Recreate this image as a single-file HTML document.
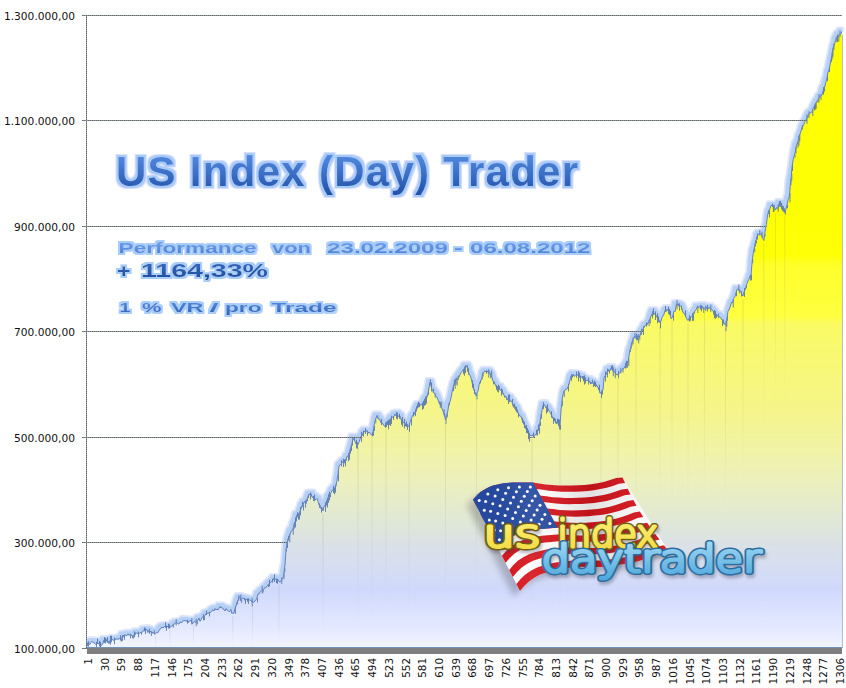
<!DOCTYPE html>
<html><head><meta charset="utf-8">
<style>
html,body{margin:0;padding:0;background:#fff;width:846px;height:688px;overflow:hidden}
svg{display:block}
.grid line{stroke-width:1}
.ax text{font-family:"DejaVu Sans","Liberation Sans",sans-serif;font-size:10.65px;fill:#111;text-anchor:end}
.xl text{font-family:"DejaVu Sans","Liberation Sans",sans-serif;font-size:10.4px;fill:#111;text-anchor:end}
.t{font-family:"Liberation Sans",Arial,sans-serif;font-weight:bold}
.lg{font-family:"DejaVu Sans",sans-serif;font-weight:200}
</style></head><body>
<svg width="846" height="688" viewBox="0 0 846 688">
<defs>
<linearGradient id="fillg" gradientUnits="userSpaceOnUse" x1="0" y1="15" x2="0" y2="648"><stop offset="0.000" stop-color="#ffff00"/><stop offset="0.379" stop-color="#ffff05"/><stop offset="0.395" stop-color="#ffff2a"/><stop offset="0.476" stop-color="#ffff40"/><stop offset="0.488" stop-color="#fafa64"/><stop offset="0.545" stop-color="#f8f874"/><stop offset="0.624" stop-color="#f5f58a"/><stop offset="0.687" stop-color="#f1f3a6"/><stop offset="0.735" stop-color="#ecf0bc"/><stop offset="0.790" stop-color="#e2e9d2"/><stop offset="0.845" stop-color="#d9e0ea"/><stop offset="0.908" stop-color="#d0d9fc"/><stop offset="0.964" stop-color="#e2e8ff"/><stop offset="1.000" stop-color="#f2f4ff"/></linearGradient>
<linearGradient id="titleg" x1="0" y1="0" x2="0" y2="1">
<stop offset="0" stop-color="#5b93e8"/><stop offset="1" stop-color="#2050a8"/>
</linearGradient>
<linearGradient id="perfg" x1="0" y1="0" x2="0" y2="1">
<stop offset="0" stop-color="#78a6ee"/><stop offset="1" stop-color="#4a7cd4"/>
</linearGradient>
<linearGradient id="pctg" x1="0" y1="0" x2="0" y2="1">
<stop offset="0" stop-color="#3a6cc0"/><stop offset="1" stop-color="#1d4b98"/>
</linearGradient>
<linearGradient id="vrg" x1="0" y1="0" x2="0" y2="1">
<stop offset="0" stop-color="#5d90e2"/><stop offset="1" stop-color="#2f62b8"/>
</linearGradient>
<linearGradient id="yel" x1="0" y1="0" x2="0" y2="1">
<stop offset="0" stop-color="#fff27a"/><stop offset="1" stop-color="#f0d840"/>
</linearGradient>
<linearGradient id="blu" x1="0" y1="0" x2="0" y2="1">
<stop offset="0" stop-color="#a8dcf4"/><stop offset="1" stop-color="#4aa6dc"/>
</linearGradient>
<linearGradient id="flagshade" gradientUnits="userSpaceOnUse" x1="473" y1="0" x2="668" y2="0">
<stop offset="0" stop-color="#000" stop-opacity="0"/>
<stop offset="0.3" stop-color="#fff" stop-opacity="0.08"/>
<stop offset="0.6" stop-color="#000" stop-opacity="0.12"/>
<stop offset="1" stop-color="#fff" stop-opacity="0.05"/>
</linearGradient>
<filter id="glow" x="-10%" y="-30%" width="120%" height="160%">
<feMorphology in="SourceAlpha" operator="dilate" radius="3.2" result="d2"/>
<feFlood flood-color="#dadffc"/><feComposite in2="d2" operator="in" result="g2"/>
<feMorphology in="SourceAlpha" operator="dilate" radius="2" result="d"/>
<feFlood flood-color="#a6cbf8"/><feComposite in2="d" operator="in" result="g"/>
<feMerge><feMergeNode in="g2"/><feMergeNode in="g"/><feMergeNode in="SourceGraphic"/></feMerge>
</filter>
<filter id="glows" x="-10%" y="-40%" width="120%" height="180%">
<feMorphology in="SourceAlpha" operator="dilate" radius="2.4" result="d2"/>
<feFlood flood-color="#dfe4fc"/><feComposite in2="d2" operator="in" result="g2"/>
<feMorphology in="SourceAlpha" operator="dilate" radius="1.5" result="d"/>
<feFlood flood-color="#a9cdf9"/><feComposite in2="d" operator="in" result="g"/>
<feMerge><feMergeNode in="g2"/><feMergeNode in="g"/><feMergeNode in="SourceGraphic"/></feMerge>
</filter>
<filter id="blur3" x="-20%" y="-20%" width="140%" height="140%"><feGaussianBlur stdDeviation="3"/></filter>
<filter id="blur2" x="-20%" y="-20%" width="140%" height="140%"><feGaussianBlur stdDeviation="1.6"/></filter>
<mask id="gm" maskUnits="userSpaceOnUse" x="0" y="0" width="846" height="688">
<rect width="846" height="688" fill="#fff"/>
<path d="M87,646.5 L88,644.9 L89,646.4 L90,646.8 L91,644.9 L92,643.8 L93,645 L94,645.2 L95,646.1 L96,647.1 L97,644.9 L98,646.5 L99,645.7 L100,648.6 L101,648.5 L102,647 L103,646.2 L104,642.5 L105,643.8 L106,642.9 L107,642.9 L108,643.5 L109,646.2 L110,642.8 L111,642.1 L112,641.6 L113,642.8 L114,642.5 L115,642.3 L116,641.5 L117,641.4 L118,641.5 L119,641.6 L120,640.5 L121,641.3 L122,640 L123,637.5 L124,639.8 L125,637.2 L126,638.2 L127,638 L128,636.3 L129,637.8 L130,636.8 L131,637.8 L132,637.5 L133,640.9 L134,636.9 L135,637.6 L136,634.9 L137,636.1 L138,635.5 L139,636.2 L140,635 L141,635.2 L142,634.5 L143,634.1 L144,632.4 L145,633.6 L146,632.5 L147,631.9 L148,635.1 L149,632.7 L150,633.5 L150.9,634.7 L151.9,634.4 L152.8,635.8 L153.7,634.6 L154.7,636.8 L155.6,636.1 L156.7,634.8 L157.8,635.2 L158.9,633.3 L160,631.5 L161,631.1 L162,629.4 L163,630.5 L164,629.6 L165,628.5 L166,630.5 L167,628.5 L168,629.7 L169,629.9 L170,629.5 L170.9,629.2 L171.8,628.5 L172.8,627.9 L173.7,626.4 L174.6,626.5 L175.7,625 L176.8,625.3 L177.8,625.9 L178.9,626.6 L180,624.5 L181,625.1 L182,624.7 L183,623.9 L184,622.5 L185,623.5 L186,623.1 L187,623.9 L188,625.3 L189,623.5 L190.1,623.4 L191.2,623.2 L192.4,626.4 L193.5,624.5 L194.6,624.3 L195.8,624.6 L196.9,624 L198,622.5 L199,620.6 L200,623.8 L201,622.4 L202,620 L203,619.1 L204,619.2 L205,617.8 L206,616 L207,616.1 L208,615.5 L209,615.3 L210,615.4 L211,614.3 L212,612.9 L213,612.2 L214,613.5 L215,611 L216,612.5 L217,611.5 L218,612.5 L219,610.7 L220,608.8 L221,610.5 L222,609.8 L223,611.4 L224,612.1 L225,613.5 L226,611.1 L227,612.5 L228,613 L228.9,614.2 L229.9,613.8 L230.9,611.9 L231.8,615.9 L232.8,615.5 L233.9,615.7 L234.9,611.9 L236,608.5 L237.1,604.5 L238.3,602 L239.4,599.5 L240.3,600 L241.2,602.7 L242.1,600.9 L243,600.5 L244,601 L245,602.9 L246,601.5 L247,601.8 L248,604.3 L249,601.9 L250,603 L250.9,602.8 L251.7,604.4 L252.6,603.9 L253.7,604.9 L254.9,603.5 L256,602.2 L257,600.6 L258,596.4 L259,596.5 L259.9,594.7 L260.8,593.7 L261.7,592.8 L262.6,592.3 L263.7,592 L264.8,590 L265.8,590.3 L266.9,588.6 L268,587.5 L269,586.1 L270,585.6 L271,584.5 L272,583.6 L273,582.8 L274,580.5 L275,581 L276,582.2 L277,583.5 L278,582.3 L279,584 L280.1,584.6 L281.2,583.3 L282.4,580.4 L283.5,579.5 L284.2,573 L285,567.5 L286,552.5 L287,545.6 L288,541.5 L289.2,538.7 L290.5,535.5 L291.6,533 L292.8,532.4 L293.9,527.5 L295,524.5 L296,521.3 L297,517.1 L298,517.5 L299,517.1 L300,513.7 L301,511.5 L302,508 L303,508.2 L304,504.5 L305,504.5 L306,506.3 L307,501.7 L308,499.1 L309,496.5 L310,497.3 L311,496.1 L312,499.5 L313,500 L314,499 L315,502 L316,502 L317,501 L318,503.8 L319,507.5 L320,507.5 L321,511.3 L322,510.2 L323,513.5 L324,508.8 L325,508.5 L326,504.5 L327,503.7 L328,499.9 L329,498.5 L330,497.5 L331,495.1 L332,492.9 L333,492.5 L334,490.4 L335,491.2 L336,488.5 L337,482.6 L338,477.4 L339,468.5 L340,467.4 L341,466.4 L342,465.5 L343,463.9 L344,464.4 L345,462.6 L346,463.5 L347,458.8 L348,458.8 L349,456.8 L350,452.5 L351,449.3 L352,445.8 L353,440.2 L354,442.6 L355,443.6 L356,446.5 L357,446.9 L358,447.1 L359,444.5 L360,441.6 L361,438.8 L362,438.5 L363,435.1 L364,435 L365,433.2 L366,433.7 L367,433.3 L368,435.7 L369,434.5 L370,435.7 L371,437.1 L372,437.5 L373,434.3 L374,428.5 L375.2,422.9 L376.5,419.2 L377.4,417.9 L378.2,421.7 L379.1,420.9 L380,422.5 L381,425.3 L382,425.5 L383,426.5 L384,428.3 L385,428.7 L386,428.5 L387,424.7 L388,426.3 L389,423.3 L390,422.5 L391,420.5 L392,419.6 L393,419.7 L394,418.7 L395,416.5 L396,418.3 L397,416 L398,418.5 L399,419.1 L400,418.4 L401,422.1 L402,423.5 L403,425.2 L404,424.7 L405,426.5 L406,427.3 L407,427.8 L408,429.1 L409,428.5 L410,424.8 L411,422.1 L412,419.4 L413,417.5 L414,417.4 L415,414.7 L416,411.4 L417,409.7 L418,407.5 L419,407.6 L420,407.7 L421,407.3 L422,407.1 L423,407.5 L424,403.8 L425,402.1 L426,400.5 L427,399.8 L428,395.5 L429,390.6 L430,384.5 L431,388.6 L432,392.5 L432.9,393.4 L433.8,394.9 L434.7,396 L435.8,398.6 L436.9,399.6 L438,402.5 L438.9,404.7 L439.8,406.8 L440.7,407.7 L441.6,410.5 L442.6,412.6 L443.6,415.4 L444.5,418.3 L445.5,422.5 L446.8,418.5 L448,412.5 L449,405.9 L450,404.2 L451,400.5 L452,394.8 L453,390.5 L453.9,387 L454.7,384.9 L455.6,382 L456.7,382.1 L457.8,379.8 L458.9,378.5 L460,377.5 L461,375.2 L462,374 L463,372.5 L464,372 L465,369.1 L466,368.1 L467,369.6 L468,372.3 L469,376.5 L470,377.9 L471,380.3 L472,384.5 L473,389.7 L474,392.5 L475.2,395.9 L476.5,398.5 L477.4,394.7 L478.2,393.1 L479.1,387.3 L480,384.5 L480.9,383.1 L481.8,380.9 L482.6,376 L483.5,375.5 L484.8,373.3 L486,374.5 L487.1,373.3 L488.2,375.1 L489.3,373.9 L490.2,377.5 L491.1,376.9 L492,380.5 L493,383.8 L494,384.3 L495,386.4 L496,389 L497,389.3 L498,390.4 L499,389.6 L500,392.5 L501,392.6 L502,393.5 L503,396 L504,397.4 L505,400 L506,398.5 L507,402.6 L508,400.4 L509,400 L510,403 L511,403.7 L512,404.2 L513,408.6 L514,407.5 L515,409.8 L516,410 L517,412.5 L518,415.5 L519,417.1 L520,418.5 L521,418.8 L522,422.2 L523,424.6 L524,427 L525,429.2 L526,431.5 L527,433.5 L528,435.4 L529,438 L530,438.4 L531,437.7 L532,438.5 L533,437 L534,439.2 L535,437.4 L536,436.5 L537,435.3 L538,431.4 L539,431.5 L540,424.3 L541,417.5 L542,413.4 L543,407.5 L544,406.6 L545,408.5 L546,410.4 L547,409.9 L548,411.1 L549,413.6 L550,414.7 L551,416.5 L552,418.4 L553,421.2 L554,421.5 L555,422.1 L556,425.2 L557,424.5 L558,425 L559,426.1 L560,428.5 L561,412.5 L561.8,406.3 L562.6,398.5 L563.8,394.3 L565,392.5 L566,391.6 L567,391.5 L568,389.5 L569,386.8 L570,382.5 L571,378.5 L572,379.1 L573,376.5 L574,378.8 L575,378.3 L576,377 L577,377.5 L578,377.5 L579,378.5 L580,379.5 L581,378.7 L582,380.2 L583,380.8 L584,381.5 L585,381.7 L586,383.5 L587,382.5 L588,383.1 L589,382.6 L590,385 L591,386.5 L592,384.4 L593,385.4 L594,386.1 L595,386.5 L596,387.5 L597,388.1 L598,390.5 L599,391.7 L600,395.9 L601,395 L602,393.1 L603,392.5 L604,380.5 L605,378.2 L606,377.5 L607,374.9 L608,372 L609,373.1 L609.9,373.4 L610.9,370.6 L611.9,372 L612.8,373.4 L613.8,373.5 L614.8,375 L615.9,376.9 L617,377 L618,377.5 L619.1,375.9 L620.2,374.8 L621.4,373.1 L622.5,372 L623.4,371.1 L624.2,370.5 L625.1,368.3 L626,367.5 L627.1,365.1 L628.3,364.5 L629.1,357.6 L630,352.5 L630.8,350.2 L631.5,345.5 L632.5,344.6 L633.5,341.9 L634.5,338.5 L635.2,340.4 L636,340.5 L637.1,341 L638.2,339.6 L639.3,339.2 L640.2,338 L641.1,334.2 L642,333.5 L643,331.5 L644,329.9 L645,327.9 L646,327.5 L646.9,327.6 L647.7,325.4 L648.6,325.3 L649.8,321.8 L651,318.5 L652,316.4 L653,313.5 L654,316.7 L655,316 L656,318.5 L657,319.2 L658,322.8 L659,322.4 L660,325.3 L661,323.5 L662,320.1 L663,318.5 L664,316.6 L665,313 L666,314 L667,311.5 L668,312.9 L669,315.5 L670,316.2 L671,321.1 L672,320.5 L673,317.8 L674,313.5 L675.2,313.9 L676.5,306.5 L677.8,307.4 L679,307.5 L680,307.9 L681,309 L682,311.3 L683,315.1 L684,315.5 L685,317.3 L686,319.7 L687,321.7 L688,323 L689,320.7 L690,320.5 L691,320 L692,318.6 L693,318.5 L694,314.6 L695,313.5 L696.2,312.2 L697.4,309 L698.3,310.1 L699.2,309.8 L700.1,309.1 L701,310.5 L702.1,308.6 L703.3,311.7 L704.4,311.5 L705.3,311.4 L706.2,309.6 L707.1,311.4 L708,311.5 L709.1,309.8 L710.3,311.5 L711.4,311.5 L712.3,312.7 L713.1,313.9 L714,314.5 L715,316.7 L716,318.5 L716.9,318.9 L717.9,317.7 L718.8,318.8 L719.7,319.5 L720.9,320.4 L722,322.5 L722.9,323.5 L723.8,325.3 L724.6,326.9 L725.5,327.5 L726.2,325.8 L727,320.5 L728,313.7 L729,312.5 L730,309.9 L731,306.5 L731.9,304.5 L732.7,305.4 L733.6,301.1 L734.8,299.3 L736,295.5 L737.1,291.7 L738.3,291.5 L739.2,292.9 L740.1,292.9 L741,294.5 L742,297.6 L743,298.5 L744,294.3 L745,292.5 L745.9,289.7 L746.7,287 L747.6,284.5 L748.7,282.1 L749.9,279.2 L751,277.5 L752.2,264 L753.4,254.5 L754.2,251 L755,246.5 L756,243.6 L757,238.5 L758.1,237.8 L759.2,236.1 L760.4,236.8 L761.5,236 L762.6,240.1 L763.8,243 L764.7,236.9 L765.5,231.2 L766.4,226.9 L767.3,219.5 L768.1,215.3 L769,213.5 L770,211.1 L771,207.8 L772,208.1 L772.9,208.4 L773.8,209.5 L774.6,210.3 L775.5,212.5 L776.6,210 L777.8,211 L778.9,207 L780,205.5 L781,207.3 L781.9,211.8 L782.9,211.2 L783.8,211.3 L784.8,215.1 L785.9,211.7 L787,207.5 L788.2,202 L789.5,198.5 L790.5,184.5 L791.2,178.8 L792,169.5 L793.2,162.1 L794.5,157.5 L795.5,152.9 L796.5,147.7 L797.5,145.5 L798.4,142.6 L799.2,138.4 L800.1,136.4 L801,133.5 L801.9,130.8 L802.8,128.3 L803.6,127.8 L804.5,124.5 L805.5,123.9 L806.5,121.2 L807.5,119.5 L808.5,117.2 L809.5,115.7 L810.5,115.5 L811.4,114.3 L812.2,115.1 L813.1,110.5 L814,109.5 L814.9,107.1 L815.8,105.7 L816.6,103.8 L817.5,103.5 L818.5,100.8 L819.5,99.9 L820.5,98.5 L821.8,97.6 L823,93.5 L824,91 L825,88.5 L826,83.9 L827,80.5 L828,74.7 L829,72.5 L830,67.7 L831,62.5 L831.8,58 L832.5,53.5 L833.5,48.7 L834.5,46.5 L835.8,42.3 L837,40.5 L838.2,38.5 L839.5,36.5 L840.8,36.4 L842,34 L843,648 L87,648 Z" fill="#000"/>
</mask>
<linearGradient id="strk" x1="0" y1="0" x2="0" y2="1">
<stop offset="0" stop-color="#7f8a68" stop-opacity="0.22"/><stop offset="1" stop-color="#7f8a68" stop-opacity="0"/>
</linearGradient>
<clipPath id="pc"><rect x="87" y="0" width="759" height="647"/></clipPath>
</defs>

<path d="M87,644 L88,642.4 L89,643.9 L90,644.3 L91,642.4 L92,641.3 L93,642.5 L94,642.7 L95,643.6 L96,644.6 L97,642.4 L98,644 L99,643.2 L100,646.1 L101,646 L102,644.5 L103,643.7 L104,640 L105,641.3 L106,640.4 L107,640.4 L108,641 L109,643.7 L110,640.3 L111,639.6 L112,639.1 L113,640.3 L114,640 L115,639.8 L116,639 L117,638.9 L118,639 L119,639.1 L120,638 L121,638.8 L122,637.5 L123,635 L124,637.3 L125,634.7 L126,635.7 L127,635.5 L128,633.8 L129,635.3 L130,634.3 L131,635.3 L132,635 L133,638.4 L134,634.4 L135,635.1 L136,632.4 L137,633.6 L138,633 L139,633.7 L140,632.5 L141,632.7 L142,632 L143,631.6 L144,629.9 L145,631.1 L146,630 L147,629.4 L148,632.6 L149,630.2 L150,631 L150.9,632.2 L151.9,631.9 L152.8,633.3 L153.7,632.1 L154.7,634.3 L155.6,633.6 L156.7,632.3 L157.8,632.7 L158.9,630.8 L160,629 L161,628.6 L162,626.9 L163,628 L164,627.1 L165,626 L166,628 L167,626 L168,627.2 L169,627.4 L170,627 L170.9,626.7 L171.8,626 L172.8,625.4 L173.7,623.9 L174.6,624 L175.7,622.5 L176.8,622.8 L177.8,623.4 L178.9,624.1 L180,622 L181,622.6 L182,622.2 L183,621.4 L184,620 L185,621 L186,620.6 L187,621.4 L188,622.8 L189,621 L190.1,620.9 L191.2,620.7 L192.4,623.9 L193.5,622 L194.6,621.8 L195.8,622.1 L196.9,621.5 L198,620 L199,618.1 L200,621.3 L201,619.9 L202,617.5 L203,616.6 L204,616.7 L205,615.3 L206,613.5 L207,613.6 L208,613 L209,612.8 L210,612.9 L211,611.8 L212,610.4 L213,609.7 L214,611 L215,608.5 L216,610 L217,609 L218,610 L219,608.2 L220,606.3 L221,608 L222,607.3 L223,608.9 L224,609.6 L225,611 L226,608.6 L227,610 L228,610.5 L228.9,611.7 L229.9,611.3 L230.9,609.4 L231.8,613.4 L232.8,613 L233.9,613.2 L234.9,609.4 L236,606 L237.1,602 L238.3,599.5 L239.4,597 L240.3,597.5 L241.2,600.2 L242.1,598.4 L243,598 L244,598.5 L245,600.4 L246,599 L247,599.3 L248,601.8 L249,599.4 L250,600.5 L250.9,600.3 L251.7,601.9 L252.6,601.4 L253.7,602.4 L254.9,601 L256,599.7 L257,598.1 L258,593.9 L259,594 L259.9,592.2 L260.8,591.2 L261.7,590.3 L262.6,589.8 L263.7,589.5 L264.8,587.5 L265.8,587.8 L266.9,586.1 L268,585 L269,583.6 L270,583.1 L271,582 L272,581.1 L273,580.3 L274,578 L275,578.5 L276,579.7 L277,581 L278,579.8 L279,581.5 L280.1,582.1 L281.2,580.8 L282.4,577.9 L283.5,577 L284.2,570.5 L285,565 L286,550 L287,543.1 L288,539 L289.2,536.2 L290.5,533 L291.6,530.5 L292.8,529.9 L293.9,525 L295,522 L296,518.8 L297,514.6 L298,515 L299,514.6 L300,511.2 L301,509 L302,505.5 L303,505.7 L304,502 L305,502 L306,503.8 L307,499.2 L308,496.6 L309,494 L310,494.8 L311,493.6 L312,497 L313,497.5 L314,496.5 L315,499.5 L316,499.5 L317,498.5 L318,501.3 L319,505 L320,505 L321,508.8 L322,507.7 L323,511 L324,506.3 L325,506 L326,502 L327,501.2 L328,497.4 L329,496 L330,495 L331,492.6 L332,490.4 L333,490 L334,487.9 L335,488.7 L336,486 L337,480.1 L338,474.9 L339,466 L340,464.9 L341,463.9 L342,463 L343,461.4 L344,461.9 L345,460.1 L346,461 L347,456.3 L348,456.3 L349,454.3 L350,450 L351,446.8 L352,443.3 L353,437.7 L354,440.1 L355,441.1 L356,444 L357,444.4 L358,444.6 L359,442 L360,439.1 L361,436.3 L362,436 L363,432.6 L364,432.5 L365,430.7 L366,431.2 L367,430.8 L368,433.2 L369,432 L370,433.2 L371,434.6 L372,435 L373,431.8 L374,426 L375.2,420.4 L376.5,416.7 L377.4,415.4 L378.2,419.2 L379.1,418.4 L380,420 L381,422.8 L382,423 L383,424 L384,425.8 L385,426.2 L386,426 L387,422.2 L388,423.8 L389,420.8 L390,420 L391,418 L392,417.1 L393,417.2 L394,416.2 L395,414 L396,415.8 L397,413.5 L398,416 L399,416.6 L400,415.9 L401,419.6 L402,421 L403,422.7 L404,422.2 L405,424 L406,424.8 L407,425.3 L408,426.6 L409,426 L410,422.3 L411,419.6 L412,416.9 L413,415 L414,414.9 L415,412.2 L416,408.9 L417,407.2 L418,405 L419,405.1 L420,405.2 L421,404.8 L422,404.6 L423,405 L424,401.3 L425,399.6 L426,398 L427,397.3 L428,393 L429,388.1 L430,382 L431,386.1 L432,390 L432.9,390.9 L433.8,392.4 L434.7,393.5 L435.8,396.1 L436.9,397.1 L438,400 L438.9,402.2 L439.8,404.3 L440.7,405.2 L441.6,408 L442.6,410.1 L443.6,412.9 L444.5,415.8 L445.5,420 L446.8,416 L448,410 L449,403.4 L450,401.7 L451,398 L452,392.3 L453,388 L453.9,384.5 L454.7,382.4 L455.6,379.5 L456.7,379.6 L457.8,377.3 L458.9,376 L460,375 L461,372.7 L462,371.5 L463,370 L464,369.5 L465,366.6 L466,365.6 L467,367.1 L468,369.8 L469,374 L470,375.4 L471,377.8 L472,382 L473,387.2 L474,390 L475.2,393.4 L476.5,396 L477.4,392.2 L478.2,390.6 L479.1,384.8 L480,382 L480.9,380.6 L481.8,378.4 L482.6,373.5 L483.5,373 L484.8,370.8 L486,372 L487.1,370.8 L488.2,372.6 L489.3,371.4 L490.2,375 L491.1,374.4 L492,378 L493,381.3 L494,381.8 L495,383.9 L496,386.5 L497,386.8 L498,387.9 L499,387.1 L500,390 L501,390.1 L502,391 L503,393.5 L504,394.9 L505,397.5 L506,396 L507,400.1 L508,397.9 L509,397.5 L510,400.5 L511,401.2 L512,401.7 L513,406.1 L514,405 L515,407.3 L516,407.5 L517,410 L518,413 L519,414.6 L520,416 L521,416.3 L522,419.7 L523,422.1 L524,424.5 L525,426.7 L526,429 L527,431 L528,432.9 L529,435.5 L530,435.9 L531,435.2 L532,436 L533,434.5 L534,436.7 L535,434.9 L536,434 L537,432.8 L538,428.9 L539,429 L540,421.8 L541,415 L542,410.9 L543,405 L544,404.1 L545,406 L546,407.9 L547,407.4 L548,408.6 L549,411.1 L550,412.2 L551,414 L552,415.9 L553,418.7 L554,419 L555,419.6 L556,422.7 L557,422 L558,422.5 L559,423.6 L560,426 L561,410 L561.8,403.8 L562.6,396 L563.8,391.8 L565,390 L566,389.1 L567,389 L568,387 L569,384.3 L570,380 L571,376 L572,376.6 L573,374 L574,376.3 L575,375.8 L576,374.5 L577,375 L578,375 L579,376 L580,377 L581,376.2 L582,377.7 L583,378.3 L584,379 L585,379.2 L586,381 L587,380 L588,380.6 L589,380.1 L590,382.5 L591,384 L592,381.9 L593,382.9 L594,383.6 L595,384 L596,385 L597,385.6 L598,388 L599,389.2 L600,393.4 L601,392.5 L602,390.6 L603,390 L604,378 L605,375.7 L606,375 L607,372.4 L608,369.5 L609,370.6 L609.9,370.9 L610.9,368.1 L611.9,369.5 L612.8,370.9 L613.8,371 L614.8,372.5 L615.9,374.4 L617,374.5 L618,375 L619.1,373.4 L620.2,372.3 L621.4,370.6 L622.5,369.5 L623.4,368.6 L624.2,368 L625.1,365.8 L626,365 L627.1,362.6 L628.3,362 L629.1,355.1 L630,350 L630.8,347.7 L631.5,343 L632.5,342.1 L633.5,339.4 L634.5,336 L635.2,337.9 L636,338 L637.1,338.5 L638.2,337.1 L639.3,336.7 L640.2,335.5 L641.1,331.7 L642,331 L643,329 L644,327.4 L645,325.4 L646,325 L646.9,325.1 L647.7,322.9 L648.6,322.8 L649.8,319.3 L651,316 L652,313.9 L653,311 L654,314.2 L655,313.5 L656,316 L657,316.7 L658,320.3 L659,319.9 L660,322.8 L661,321 L662,317.6 L663,316 L664,314.1 L665,310.5 L666,311.5 L667,309 L668,310.4 L669,313 L670,313.7 L671,318.6 L672,318 L673,315.3 L674,311 L675.2,311.4 L676.5,304 L677.8,304.9 L679,305 L680,305.4 L681,306.5 L682,308.8 L683,312.6 L684,313 L685,314.8 L686,317.2 L687,319.2 L688,320.5 L689,318.2 L690,318 L691,317.5 L692,316.1 L693,316 L694,312.1 L695,311 L696.2,309.7 L697.4,306.5 L698.3,307.6 L699.2,307.3 L700.1,306.6 L701,308 L702.1,306.1 L703.3,309.2 L704.4,309 L705.3,308.9 L706.2,307.1 L707.1,308.9 L708,309 L709.1,307.3 L710.3,309 L711.4,309 L712.3,310.2 L713.1,311.4 L714,312 L715,314.2 L716,316 L716.9,316.4 L717.9,315.2 L718.8,316.3 L719.7,317 L720.9,317.9 L722,320 L722.9,321 L723.8,322.8 L724.6,324.4 L725.5,325 L726.2,323.3 L727,318 L728,311.2 L729,310 L730,307.4 L731,304 L731.9,302 L732.7,302.9 L733.6,298.6 L734.8,296.8 L736,293 L737.1,289.2 L738.3,289 L739.2,290.4 L740.1,290.4 L741,292 L742,295.1 L743,296 L744,291.8 L745,290 L745.9,287.2 L746.7,284.5 L747.6,282 L748.7,279.6 L749.9,276.7 L751,275 L752.2,261.5 L753.4,252 L754.2,248.5 L755,244 L756,241.1 L757,236 L758.1,235.3 L759.2,233.6 L760.4,234.3 L761.5,233.5 L762.6,237.6 L763.8,240.5 L764.7,234.4 L765.5,228.7 L766.4,224.4 L767.3,217 L768.1,212.8 L769,211 L770,208.6 L771,205.3 L772,205.6 L772.9,205.9 L773.8,207 L774.6,207.8 L775.5,210 L776.6,207.5 L777.8,208.5 L778.9,204.5 L780,203 L781,204.8 L781.9,209.3 L782.9,208.7 L783.8,208.8 L784.8,212.6 L785.9,209.2 L787,205 L788.2,199.5 L789.5,196 L790.5,182 L791.2,176.3 L792,167 L793.2,159.6 L794.5,155 L795.5,150.4 L796.5,145.2 L797.5,143 L798.4,140.1 L799.2,135.9 L800.1,133.9 L801,131 L801.9,128.3 L802.8,125.8 L803.6,125.3 L804.5,122 L805.5,121.4 L806.5,118.7 L807.5,117 L808.5,114.7 L809.5,113.2 L810.5,113 L811.4,111.8 L812.2,112.6 L813.1,108 L814,107 L814.9,104.6 L815.8,103.2 L816.6,101.3 L817.5,101 L818.5,98.3 L819.5,97.4 L820.5,96 L821.8,95.1 L823,91 L824,88.5 L825,86 L826,81.4 L827,78 L828,72.2 L829,70 L830,65.2 L831,60 L831.8,55.5 L832.5,51 L833.5,46.2 L834.5,44 L835.8,39.8 L837,38 L838.2,36 L839.5,34 L840.8,33.9 L842,31.5 L842,648 L87,648 Z" fill="url(#fillg)"/>
<g fill="url(#strk)"><rect x="155.1" y="636.6" width="1" height="11.4"/><rect x="169.5" y="630.0" width="1" height="18.0"/><rect x="193.0" y="625.0" width="1" height="23.0"/><rect x="232.3" y="616.0" width="1" height="32.0"/><rect x="252.1" y="604.4" width="1" height="43.6"/><rect x="278.5" y="584.5" width="1" height="63.5"/><rect x="322.5" y="514.0" width="1" height="134.0"/><rect x="357.5" y="447.6" width="1" height="190.0"/><rect x="371.5" y="438.0" width="1" height="190.0"/><rect x="385.5" y="429.0" width="1" height="190.0"/><rect x="408.5" y="429.0" width="1" height="190.0"/><rect x="445.0" y="423.0" width="1" height="190.0"/><rect x="476.0" y="399.0" width="1" height="190.0"/><rect x="531.5" y="439.0" width="1" height="190.0"/><rect x="559.5" y="429.0" width="1" height="190.0"/><rect x="600.5" y="395.5" width="1" height="190.0"/><rect x="617.5" y="378.0" width="1" height="190.0"/><rect x="635.5" y="341.0" width="1" height="190.0"/><rect x="659.5" y="325.8" width="1" height="190.0"/><rect x="671.5" y="321.0" width="1" height="190.0"/><rect x="687.5" y="323.5" width="1" height="190.0"/><rect x="703.9" y="312.0" width="1" height="190.0"/><rect x="725.0" y="328.0" width="1" height="190.0"/><rect x="742.5" y="299.0" width="1" height="190.0"/><rect x="763.3" y="243.5" width="1" height="190.0"/><rect x="775.0" y="213.0" width="1" height="190.0"/><rect x="784.3" y="215.6" width="1" height="190.0"/></g>
<g clip-path="url(#pc)">
<path d="M87,639.8 L88,639.8 L89,638.7 L90,638.7 L91,638.7 L92,638.7 L93,638.7 L94,638.7 L95,638.7 L96,639.8 L97,639.8 L98,639.8 L99,639.8 L100,639.8 L101,637.4 L102,637.4 L103,637.4 L104,637.4 L105,637.4 L106,637.4 L107,637.4 L108,637 L109,636.5 L110,636.5 L111,636.5 L112,636.5 L113,636.4 L114,636.3 L115,636.3 L116,636.3 L117,635.4 L118,635.4 L119,634.9 L120,632.4 L121,632.4 L122,632.1 L123,632.1 L124,632.1 L125,631.2 L126,631.2 L127,631.2 L128,631.2 L129,631.2 L130,631.2 L131,631.2 L132,631.7 L133,629.8 L134,629.8 L135,629.8 L136,629.8 L137,629.8 L138,629.8 L139,629.4 L140,629 L141,627.3 L142,627.3 L143,627.3 L144,626.8 L145,626.8 L146,626.8 L147,626.8 L148,626.8 L149,626.8 L150,626.8 L150.9,627.6 L151.9,627.6 L152.8,628.4 L153.7,629.3 L154.7,629.3 L155.6,628.2 L156.7,626.4 L157.8,626 L158.9,624.3 L160,624.3 L161,624.3 L162,623.4 L163,623.4 L164,623.4 L165,623.4 L166,623.4 L167,623.4 L168,623.4 L169,623.4 L170,622.8 L170.9,621.3 L171.8,621.3 L172.8,619.9 L173.7,619.9 L174.6,619.9 L175.7,619.9 L176.8,619.4 L177.8,619.4 L178.9,619.4 L180,618.8 L181,617.4 L182,617.4 L183,617.4 L184,617.4 L185,617.4 L186,617.4 L187,617.4 L188,618 L189,618 L190.1,618.1 L191.2,618.1 L192.4,618.1 L193.5,618.1 L194.6,617.4 L195.8,615.5 L196.9,615.5 L198,615.5 L199,614.9 L200,614 L201,614 L202,612.7 L203,610.9 L204,610.9 L205,610.4 L206,610.2 L207,610.2 L208,609.2 L209,607.8 L210,607.1 L211,607.1 L212,605.9 L213,605.9 L214,605.9 L215,605.9 L216,605.6 L217,603.7 L218,603.7 L219,603.7 L220,603.7 L221,603.7 L222,603.7 L223,603.7 L224,604.7 L225,604.7 L226,606 L227,606 L228,606 L228.9,606 L229.9,606.8 L230.9,606.8 L231.8,606.8 L232.8,603.4 L233.9,599.4 L234.9,596.9 L236,594.4 L237.1,594.4 L238.3,594.4 L239.4,594.4 L240.3,594.4 L241.2,594.4 L242.1,594.4 L243,594.9 L244,595.4 L245,595.4 L246,595.4 L247,595.9 L248,596.4 L249,596.4 L250,596.7 L250.9,596.8 L251.7,596.8 L252.6,597.1 L253.7,595.5 L254.9,591.3 L256,591.3 L257,589.6 L258,588.6 L259,587.7 L259.9,587.2 L260.8,586.9 L261.7,584.9 L262.6,584.9 L263.7,583.5 L264.8,582.4 L265.8,581 L266.9,580.5 L268,579.4 L269,578.5 L270,577.7 L271,575.4 L272,575.4 L273,575.4 L274,575.4 L275,575.4 L276,575.4 L277,575.4 L278,575.9 L279,575.3 L280.1,574.4 L281.2,567.9 L282.4,562.4 L283.5,547.4 L284.2,540.5 L285,536.4 L286,533.6 L287,530.4 L288,527.9 L289.2,527.3 L290.5,522.4 L291.6,519.4 L292.8,516.2 L293.9,512 L295,512 L296,512 L297,508.6 L298,506.4 L299,502.9 L300,502.9 L301,499.4 L302,499.4 L303,499.4 L304,496.6 L305,494 L306,491.4 L307,491.4 L308,491 L309,491 L310,491 L311,491 L312,491 L313,491 L314,491 L315,493.9 L316,493.9 L317,493.9 L318,495.9 L319,495.9 L320,495.9 L321,498.7 L322,502.4 L323,499.4 L324,498.6 L325,494.8 L326,493.4 L327,492.4 L328,490 L329,487.8 L330,487.4 L331,485.3 L332,485.3 L333,483.4 L334,477.5 L335,472.3 L336,463.4 L337,462.3 L338,461.3 L339,460.4 L340,458.8 L341,458.8 L342,457.5 L343,457.5 L344,453.7 L345,453.7 L346,451.7 L347,447.4 L348,444.2 L349,440.7 L350,435.1 L351,435.1 L352,435.1 L353,435.1 L354,435.1 L355,435.1 L356,435.1 L357,436.5 L358,433.7 L359,433.4 L360,430 L361,429.9 L362,428.1 L363,428.1 L364,428.1 L365,428.1 L366,428.1 L367,428.1 L368,428.1 L369,428.2 L370,428.2 L371,423.4 L372,417.8 L373,414.1 L374,412.8 L375.2,412.8 L376.5,412.8 L377.4,412.8 L378.2,412.8 L379.1,412.8 L380,412.8 L381,415.8 L382,415.8 L383,417.4 L384,419.6 L385,419.6 L386,418.2 L387,417.4 L388,415.4 L389,414.5 L390,414.5 L391,413.6 L392,411.4 L393,411.4 L394,410.9 L395,410.9 L396,410.9 L397,410.9 L398,410.9 L399,410.9 L400,410.9 L401,413.3 L402,413.3 L403,413.3 L404,417 L405,418.4 L406,419.6 L407,419.6 L408,417 L409,414.3 L410,412.4 L411,412.3 L412,409.6 L413,406.3 L414,404.6 L415,402.4 L416,402.4 L417,402.4 L418,402.2 L419,402 L420,402 L421,398.7 L422,397 L423,395.4 L424,394.7 L425,390.4 L426,385.5 L427,379.4 L428,379.4 L429,379.4 L430,379.4 L431,379.4 L432,379.4 L432.9,379.4 L433.8,383.5 L434.7,387.4 L435.8,388.3 L436.9,389.8 L438,390.9 L438.9,393.5 L439.8,394.5 L440.7,397.4 L441.6,399.6 L442.6,401.7 L443.6,402.6 L444.5,405.4 L445.5,400.8 L446.8,399.1 L448,395.4 L449,389.7 L450,385.4 L451,381.9 L452,379.8 L453,376.9 L453.9,376.9 L454.7,374.7 L455.6,373.4 L456.7,372.4 L457.8,370.1 L458.9,368.9 L460,367.4 L461,366.9 L462,364 L463,363 L464,363 L465,363 L466,363 L467,363 L468,363 L469,363 L470,364.5 L471,367.2 L472,371.4 L473,372.8 L474,375.2 L475.2,379.4 L476.5,382.2 L477.4,379.4 L478.2,378 L479.1,375.8 L480,370.9 L480.9,370.4 L481.8,368.2 L482.6,368.2 L483.5,368.2 L484.8,368.2 L486,368.2 L487.1,368.2 L488.2,368.2 L489.3,368.2 L490.2,368.2 L491.1,368.8 L492,368.8 L493,371.8 L494,371.8 L495,375.4 L496,378.7 L497,379.2 L498,381.3 L499,383.9 L500,384.2 L501,384.5 L502,384.5 L503,387.4 L504,387.5 L505,388.4 L506,390.9 L507,392.3 L508,393.4 L509,393.4 L510,394.9 L511,394.9 L512,394.9 L513,397.9 L514,398.6 L515,399.1 L516,402.4 L517,402.4 L518,404.7 L519,404.9 L520,407.4 L521,410.4 L522,412 L523,413.4 L524,413.7 L525,417.1 L526,419.5 L527,421.9 L528,424.1 L529,426.4 L530,428.4 L531,430.3 L532,431.9 L533,431.4 L534,430.2 L535,426.3 L536,426.3 L537,419.2 L538,412.4 L539,408.3 L540,402.4 L541,401.5 L542,401.5 L543,401.5 L544,401.5 L545,401.5 L546,401.5 L547,401.5 L548,403.4 L549,404.8 L550,404.8 L551,406 L552,408.5 L553,409.6 L554,411.4 L555,413.3 L556,416.1 L557,416.4 L558,407.4 L559,401.2 L560,393.4 L561,389.2 L561.8,387.4 L562.6,386.5 L563.8,386.4 L565,384.4 L566,381.7 L567,377.4 L568,373.4 L569,373.4 L570,371.4 L571,371.4 L572,371.4 L573,371.4 L574,371.4 L575,371.4 L576,371.4 L577,371.9 L578,371.9 L579,371.9 L580,372.4 L581,372.4 L582,373.4 L583,373.6 L584,373.6 L585,375.1 L586,375.7 L587,376.4 L588,376.6 L589,377.4 L590,377.4 L591,377.5 L592,377.5 L593,379.3 L594,379.3 L595,379.3 L596,380.3 L597,381 L598,381.4 L599,382.4 L600,383 L601,375.4 L602,373.1 L603,372.4 L604,369.8 L605,366.9 L606,366.9 L607,366.9 L608,365.5 L609,365.5 L609.9,365.5 L610.9,365.5 L611.9,365.5 L612.8,365.5 L613.8,365.5 L614.8,366.9 L615.9,368.3 L617,368.4 L618,368 L619.1,366.9 L620.2,366 L621.4,365.4 L622.5,363.2 L623.4,362.4 L624.2,360 L625.1,359.4 L626,352.5 L627.1,347.4 L628.3,345.1 L629.1,340.4 L630,339.5 L630.8,336.8 L631.5,333.4 L632.5,333.4 L633.5,333.4 L634.5,333.4 L635.2,333.4 L636,333.4 L637.1,332.9 L638.2,329.1 L639.3,328.4 L640.2,326.4 L641.1,324.8 L642,322.8 L643,322.4 L644,322.4 L645,320.3 L646,320.2 L646.9,316.7 L647.7,313.4 L648.6,311.3 L649.8,308.4 L651,308.4 L652,308.4 L653,308.4 L654,308.4 L655,308.4 L656,308.4 L657,310.9 L658,310.9 L659,313.4 L660,313.4 L661,311.5 L662,307.9 L663,307.9 L664,306.4 L665,306.4 L666,306.4 L667,306.4 L668,306.4 L669,306.4 L670,306.4 L671,307.8 L672,308.4 L673,301.4 L674,301.4 L675.2,301.4 L676.5,301.4 L677.8,301.4 L679,301.4 L680,301.4 L681,302.3 L682,302.4 L683,302.8 L684,303.9 L685,306.2 L686,310 L687,310.4 L688,312.2 L689,313.5 L690,313.4 L691,309.5 L692,308.4 L693,307.1 L694,303.9 L695,303.9 L696.2,303.9 L697.4,303.9 L698.3,303.9 L699.2,303.5 L700.1,303.5 L701,303.5 L702.1,303.5 L703.3,303.5 L704.4,303.5 L705.3,303.5 L706.2,304.5 L707.1,304.5 L708,304.5 L709.1,304.5 L710.3,304.7 L711.4,304.7 L712.3,304.7 L713.1,306.4 L714,306.4 L715,307.6 L716,308.8 L716.9,309.4 L717.9,311.6 L718.8,312.6 L719.7,312.6 L720.9,312.6 L722,313.7 L722.9,314.4 L723.8,315.3 L724.6,315.4 L725.5,308.6 L726.2,307.4 L727,304.8 L728,301.4 L729,299.4 L730,299.4 L731,296 L731.9,294.2 L732.7,290.4 L733.6,286.6 L734.8,286.4 L736,286.4 L737.1,286.4 L738.3,286.4 L739.2,286.4 L740.1,286.4 L741,286.4 L742,287.4 L743,284.6 L744,281.9 L745,279.4 L745.9,277 L746.7,274.1 L747.6,272.4 L748.7,258.9 L749.9,249.4 L751,245.9 L752.2,241.4 L753.4,238.5 L754.2,233.4 L755,232.7 L756,231 L757,231 L758.1,230.9 L759.2,230.9 L760.4,230.9 L761.5,230.9 L762.6,226.1 L763.8,221.8 L764.7,214.4 L765.5,210.2 L766.4,208.4 L767.3,206 L768.1,202.7 L769,202.7 L770,202.7 L771,202.7 L772,202.7 L772.9,202.7 L773.8,202.7 L774.6,203 L775.5,201.9 L776.6,200.4 L777.8,200.4 L778.9,200.4 L780,200.4 L781,200.4 L781.9,200.4 L782.9,200.4 L783.8,202.2 L784.8,196.9 L785.9,193.4 L787,179.4 L788.2,173.7 L789.5,164.4 L790.5,157 L791.2,152.4 L792,147.8 L793.2,142.6 L794.5,140.4 L795.5,137.5 L796.5,133.3 L797.5,131.3 L798.4,128.4 L799.2,125.7 L800.1,123.2 L801,122.7 L801.9,119.4 L802.8,118.8 L803.6,116.1 L804.5,114.4 L805.5,112.1 L806.5,110.6 L807.5,110.4 L808.5,109.2 L809.5,109.2 L810.5,105.4 L811.4,104.4 L812.2,102 L813.1,100.6 L814,98.7 L814.9,98.4 L815.8,95.7 L816.6,94.8 L817.5,93.4 L818.5,92.5 L819.5,88.4 L820.5,85.9 L821.8,83.4 L823,78.8 L824,75.4 L825,69.6 L826,67.4 L827,62.6 L828,57.4 L829,52.9 L830,48.4 L831,43.6 L831.8,41.4 L832.5,37.2 L833.5,35.4 L834.5,33.4 L835.8,31.4 L837,31.3 L838.2,28.9 L839.5,28.9 L840.8,28.9 L842,28.9" fill="none" stroke="#e0e6fc" stroke-width="5" stroke-linejoin="round" stroke-linecap="round"/>
<path d="M87,639.8 L88,639.8 L89,638.7 L90,638.7 L91,638.7 L92,638.7 L93,638.7 L94,638.7 L95,638.7 L96,639.8 L97,639.8 L98,639.8 L99,639.8 L100,639.8 L101,637.4 L102,637.4 L103,637.4 L104,637.4 L105,637.4 L106,637.4 L107,637.4 L108,637 L109,636.5 L110,636.5 L111,636.5 L112,636.5 L113,636.4 L114,636.3 L115,636.3 L116,636.3 L117,635.4 L118,635.4 L119,634.9 L120,632.4 L121,632.4 L122,632.1 L123,632.1 L124,632.1 L125,631.2 L126,631.2 L127,631.2 L128,631.2 L129,631.2 L130,631.2 L131,631.2 L132,631.7 L133,629.8 L134,629.8 L135,629.8 L136,629.8 L137,629.8 L138,629.8 L139,629.4 L140,629 L141,627.3 L142,627.3 L143,627.3 L144,626.8 L145,626.8 L146,626.8 L147,626.8 L148,626.8 L149,626.8 L150,626.8 L150.9,627.6 L151.9,627.6 L152.8,628.4 L153.7,629.3 L154.7,629.3 L155.6,628.2 L156.7,626.4 L157.8,626 L158.9,624.3 L160,624.3 L161,624.3 L162,623.4 L163,623.4 L164,623.4 L165,623.4 L166,623.4 L167,623.4 L168,623.4 L169,623.4 L170,622.8 L170.9,621.3 L171.8,621.3 L172.8,619.9 L173.7,619.9 L174.6,619.9 L175.7,619.9 L176.8,619.4 L177.8,619.4 L178.9,619.4 L180,618.8 L181,617.4 L182,617.4 L183,617.4 L184,617.4 L185,617.4 L186,617.4 L187,617.4 L188,618 L189,618 L190.1,618.1 L191.2,618.1 L192.4,618.1 L193.5,618.1 L194.6,617.4 L195.8,615.5 L196.9,615.5 L198,615.5 L199,614.9 L200,614 L201,614 L202,612.7 L203,610.9 L204,610.9 L205,610.4 L206,610.2 L207,610.2 L208,609.2 L209,607.8 L210,607.1 L211,607.1 L212,605.9 L213,605.9 L214,605.9 L215,605.9 L216,605.6 L217,603.7 L218,603.7 L219,603.7 L220,603.7 L221,603.7 L222,603.7 L223,603.7 L224,604.7 L225,604.7 L226,606 L227,606 L228,606 L228.9,606 L229.9,606.8 L230.9,606.8 L231.8,606.8 L232.8,603.4 L233.9,599.4 L234.9,596.9 L236,594.4 L237.1,594.4 L238.3,594.4 L239.4,594.4 L240.3,594.4 L241.2,594.4 L242.1,594.4 L243,594.9 L244,595.4 L245,595.4 L246,595.4 L247,595.9 L248,596.4 L249,596.4 L250,596.7 L250.9,596.8 L251.7,596.8 L252.6,597.1 L253.7,595.5 L254.9,591.3 L256,591.3 L257,589.6 L258,588.6 L259,587.7 L259.9,587.2 L260.8,586.9 L261.7,584.9 L262.6,584.9 L263.7,583.5 L264.8,582.4 L265.8,581 L266.9,580.5 L268,579.4 L269,578.5 L270,577.7 L271,575.4 L272,575.4 L273,575.4 L274,575.4 L275,575.4 L276,575.4 L277,575.4 L278,575.9 L279,575.3 L280.1,574.4 L281.2,567.9 L282.4,562.4 L283.5,547.4 L284.2,540.5 L285,536.4 L286,533.6 L287,530.4 L288,527.9 L289.2,527.3 L290.5,522.4 L291.6,519.4 L292.8,516.2 L293.9,512 L295,512 L296,512 L297,508.6 L298,506.4 L299,502.9 L300,502.9 L301,499.4 L302,499.4 L303,499.4 L304,496.6 L305,494 L306,491.4 L307,491.4 L308,491 L309,491 L310,491 L311,491 L312,491 L313,491 L314,491 L315,493.9 L316,493.9 L317,493.9 L318,495.9 L319,495.9 L320,495.9 L321,498.7 L322,502.4 L323,499.4 L324,498.6 L325,494.8 L326,493.4 L327,492.4 L328,490 L329,487.8 L330,487.4 L331,485.3 L332,485.3 L333,483.4 L334,477.5 L335,472.3 L336,463.4 L337,462.3 L338,461.3 L339,460.4 L340,458.8 L341,458.8 L342,457.5 L343,457.5 L344,453.7 L345,453.7 L346,451.7 L347,447.4 L348,444.2 L349,440.7 L350,435.1 L351,435.1 L352,435.1 L353,435.1 L354,435.1 L355,435.1 L356,435.1 L357,436.5 L358,433.7 L359,433.4 L360,430 L361,429.9 L362,428.1 L363,428.1 L364,428.1 L365,428.1 L366,428.1 L367,428.1 L368,428.1 L369,428.2 L370,428.2 L371,423.4 L372,417.8 L373,414.1 L374,412.8 L375.2,412.8 L376.5,412.8 L377.4,412.8 L378.2,412.8 L379.1,412.8 L380,412.8 L381,415.8 L382,415.8 L383,417.4 L384,419.6 L385,419.6 L386,418.2 L387,417.4 L388,415.4 L389,414.5 L390,414.5 L391,413.6 L392,411.4 L393,411.4 L394,410.9 L395,410.9 L396,410.9 L397,410.9 L398,410.9 L399,410.9 L400,410.9 L401,413.3 L402,413.3 L403,413.3 L404,417 L405,418.4 L406,419.6 L407,419.6 L408,417 L409,414.3 L410,412.4 L411,412.3 L412,409.6 L413,406.3 L414,404.6 L415,402.4 L416,402.4 L417,402.4 L418,402.2 L419,402 L420,402 L421,398.7 L422,397 L423,395.4 L424,394.7 L425,390.4 L426,385.5 L427,379.4 L428,379.4 L429,379.4 L430,379.4 L431,379.4 L432,379.4 L432.9,379.4 L433.8,383.5 L434.7,387.4 L435.8,388.3 L436.9,389.8 L438,390.9 L438.9,393.5 L439.8,394.5 L440.7,397.4 L441.6,399.6 L442.6,401.7 L443.6,402.6 L444.5,405.4 L445.5,400.8 L446.8,399.1 L448,395.4 L449,389.7 L450,385.4 L451,381.9 L452,379.8 L453,376.9 L453.9,376.9 L454.7,374.7 L455.6,373.4 L456.7,372.4 L457.8,370.1 L458.9,368.9 L460,367.4 L461,366.9 L462,364 L463,363 L464,363 L465,363 L466,363 L467,363 L468,363 L469,363 L470,364.5 L471,367.2 L472,371.4 L473,372.8 L474,375.2 L475.2,379.4 L476.5,382.2 L477.4,379.4 L478.2,378 L479.1,375.8 L480,370.9 L480.9,370.4 L481.8,368.2 L482.6,368.2 L483.5,368.2 L484.8,368.2 L486,368.2 L487.1,368.2 L488.2,368.2 L489.3,368.2 L490.2,368.2 L491.1,368.8 L492,368.8 L493,371.8 L494,371.8 L495,375.4 L496,378.7 L497,379.2 L498,381.3 L499,383.9 L500,384.2 L501,384.5 L502,384.5 L503,387.4 L504,387.5 L505,388.4 L506,390.9 L507,392.3 L508,393.4 L509,393.4 L510,394.9 L511,394.9 L512,394.9 L513,397.9 L514,398.6 L515,399.1 L516,402.4 L517,402.4 L518,404.7 L519,404.9 L520,407.4 L521,410.4 L522,412 L523,413.4 L524,413.7 L525,417.1 L526,419.5 L527,421.9 L528,424.1 L529,426.4 L530,428.4 L531,430.3 L532,431.9 L533,431.4 L534,430.2 L535,426.3 L536,426.3 L537,419.2 L538,412.4 L539,408.3 L540,402.4 L541,401.5 L542,401.5 L543,401.5 L544,401.5 L545,401.5 L546,401.5 L547,401.5 L548,403.4 L549,404.8 L550,404.8 L551,406 L552,408.5 L553,409.6 L554,411.4 L555,413.3 L556,416.1 L557,416.4 L558,407.4 L559,401.2 L560,393.4 L561,389.2 L561.8,387.4 L562.6,386.5 L563.8,386.4 L565,384.4 L566,381.7 L567,377.4 L568,373.4 L569,373.4 L570,371.4 L571,371.4 L572,371.4 L573,371.4 L574,371.4 L575,371.4 L576,371.4 L577,371.9 L578,371.9 L579,371.9 L580,372.4 L581,372.4 L582,373.4 L583,373.6 L584,373.6 L585,375.1 L586,375.7 L587,376.4 L588,376.6 L589,377.4 L590,377.4 L591,377.5 L592,377.5 L593,379.3 L594,379.3 L595,379.3 L596,380.3 L597,381 L598,381.4 L599,382.4 L600,383 L601,375.4 L602,373.1 L603,372.4 L604,369.8 L605,366.9 L606,366.9 L607,366.9 L608,365.5 L609,365.5 L609.9,365.5 L610.9,365.5 L611.9,365.5 L612.8,365.5 L613.8,365.5 L614.8,366.9 L615.9,368.3 L617,368.4 L618,368 L619.1,366.9 L620.2,366 L621.4,365.4 L622.5,363.2 L623.4,362.4 L624.2,360 L625.1,359.4 L626,352.5 L627.1,347.4 L628.3,345.1 L629.1,340.4 L630,339.5 L630.8,336.8 L631.5,333.4 L632.5,333.4 L633.5,333.4 L634.5,333.4 L635.2,333.4 L636,333.4 L637.1,332.9 L638.2,329.1 L639.3,328.4 L640.2,326.4 L641.1,324.8 L642,322.8 L643,322.4 L644,322.4 L645,320.3 L646,320.2 L646.9,316.7 L647.7,313.4 L648.6,311.3 L649.8,308.4 L651,308.4 L652,308.4 L653,308.4 L654,308.4 L655,308.4 L656,308.4 L657,310.9 L658,310.9 L659,313.4 L660,313.4 L661,311.5 L662,307.9 L663,307.9 L664,306.4 L665,306.4 L666,306.4 L667,306.4 L668,306.4 L669,306.4 L670,306.4 L671,307.8 L672,308.4 L673,301.4 L674,301.4 L675.2,301.4 L676.5,301.4 L677.8,301.4 L679,301.4 L680,301.4 L681,302.3 L682,302.4 L683,302.8 L684,303.9 L685,306.2 L686,310 L687,310.4 L688,312.2 L689,313.5 L690,313.4 L691,309.5 L692,308.4 L693,307.1 L694,303.9 L695,303.9 L696.2,303.9 L697.4,303.9 L698.3,303.9 L699.2,303.5 L700.1,303.5 L701,303.5 L702.1,303.5 L703.3,303.5 L704.4,303.5 L705.3,303.5 L706.2,304.5 L707.1,304.5 L708,304.5 L709.1,304.5 L710.3,304.7 L711.4,304.7 L712.3,304.7 L713.1,306.4 L714,306.4 L715,307.6 L716,308.8 L716.9,309.4 L717.9,311.6 L718.8,312.6 L719.7,312.6 L720.9,312.6 L722,313.7 L722.9,314.4 L723.8,315.3 L724.6,315.4 L725.5,308.6 L726.2,307.4 L727,304.8 L728,301.4 L729,299.4 L730,299.4 L731,296 L731.9,294.2 L732.7,290.4 L733.6,286.6 L734.8,286.4 L736,286.4 L737.1,286.4 L738.3,286.4 L739.2,286.4 L740.1,286.4 L741,286.4 L742,287.4 L743,284.6 L744,281.9 L745,279.4 L745.9,277 L746.7,274.1 L747.6,272.4 L748.7,258.9 L749.9,249.4 L751,245.9 L752.2,241.4 L753.4,238.5 L754.2,233.4 L755,232.7 L756,231 L757,231 L758.1,230.9 L759.2,230.9 L760.4,230.9 L761.5,230.9 L762.6,226.1 L763.8,221.8 L764.7,214.4 L765.5,210.2 L766.4,208.4 L767.3,206 L768.1,202.7 L769,202.7 L770,202.7 L771,202.7 L772,202.7 L772.9,202.7 L773.8,202.7 L774.6,203 L775.5,201.9 L776.6,200.4 L777.8,200.4 L778.9,200.4 L780,200.4 L781,200.4 L781.9,200.4 L782.9,200.4 L783.8,202.2 L784.8,196.9 L785.9,193.4 L787,179.4 L788.2,173.7 L789.5,164.4 L790.5,157 L791.2,152.4 L792,147.8 L793.2,142.6 L794.5,140.4 L795.5,137.5 L796.5,133.3 L797.5,131.3 L798.4,128.4 L799.2,125.7 L800.1,123.2 L801,122.7 L801.9,119.4 L802.8,118.8 L803.6,116.1 L804.5,114.4 L805.5,112.1 L806.5,110.6 L807.5,110.4 L808.5,109.2 L809.5,109.2 L810.5,105.4 L811.4,104.4 L812.2,102 L813.1,100.6 L814,98.7 L814.9,98.4 L815.8,95.7 L816.6,94.8 L817.5,93.4 L818.5,92.5 L819.5,88.4 L820.5,85.9 L821.8,83.4 L823,78.8 L824,75.4 L825,69.6 L826,67.4 L827,62.6 L828,57.4 L829,52.9 L830,48.4 L831,43.6 L831.8,41.4 L832.5,37.2 L833.5,35.4 L834.5,33.4 L835.8,31.4 L837,31.3 L838.2,28.9 L839.5,28.9 L840.8,28.9 L842,28.9 L842,32 L840.8,34.4 L839.5,34.5 L838.2,36.5 L837,38.5 L835.8,40.3 L834.5,44.5 L833.5,46.7 L832.5,51.5 L831.8,56 L831,60.5 L830,65.7 L829,70.5 L828,72.7 L827,78.5 L826,81.9 L825,86.5 L824,89 L823,91.5 L821.8,95.6 L820.5,96.5 L819.5,97.9 L818.5,98.8 L817.5,101.5 L816.6,101.8 L815.8,103.7 L814.9,105.1 L814,107.5 L813.1,108.5 L812.2,113.1 L811.4,112.3 L810.5,113.5 L809.5,113.7 L808.5,115.2 L807.5,117.5 L806.5,119.2 L805.5,121.9 L804.5,122.5 L803.6,125.8 L802.8,126.3 L801.9,128.8 L801,131.5 L800.1,134.4 L799.2,136.4 L798.4,140.6 L797.5,143.5 L796.5,145.7 L795.5,150.9 L794.5,155.5 L793.2,160.1 L792,167.5 L791.2,176.8 L790.5,182.5 L789.5,196.5 L788.2,200 L787,205.5 L785.9,209.7 L784.8,213.1 L783.8,209.3 L782.9,209.2 L781.9,209.8 L781,205.3 L780,203.5 L778.9,205 L777.8,209 L776.6,208 L775.5,210.5 L774.6,208.3 L773.8,207.5 L772.9,206.4 L772,206.1 L771,205.8 L770,209.1 L769,211.5 L768.1,213.3 L767.3,217.5 L766.4,224.9 L765.5,229.2 L764.7,234.9 L763.8,241 L762.6,238.1 L761.5,234 L760.4,234.8 L759.2,234.1 L758.1,235.8 L757,236.5 L756,241.6 L755,244.5 L754.2,249 L753.4,252.5 L752.2,262 L751,275.5 L749.9,277.2 L748.7,280.1 L747.6,282.5 L746.7,285 L745.9,287.7 L745,290.5 L744,292.3 L743,296.5 L742,295.6 L741,292.5 L740.1,290.9 L739.2,290.9 L738.3,289.5 L737.1,289.7 L736,293.5 L734.8,297.3 L733.6,299.1 L732.7,303.4 L731.9,302.5 L731,304.5 L730,307.9 L729,310.5 L728,311.7 L727,318.5 L726.2,323.8 L725.5,325.5 L724.6,324.9 L723.8,323.3 L722.9,321.5 L722,320.5 L720.9,318.4 L719.7,317.5 L718.8,316.8 L717.9,315.7 L716.9,316.9 L716,316.5 L715,314.7 L714,312.5 L713.1,311.9 L712.3,310.7 L711.4,309.5 L710.3,309.5 L709.1,307.8 L708,309.5 L707.1,309.4 L706.2,307.6 L705.3,309.4 L704.4,309.5 L703.3,309.7 L702.1,306.6 L701,308.5 L700.1,307.1 L699.2,307.8 L698.3,308.1 L697.4,307 L696.2,310.2 L695,311.5 L694,312.6 L693,316.5 L692,316.6 L691,318 L690,318.5 L689,318.7 L688,321 L687,319.7 L686,317.7 L685,315.3 L684,313.5 L683,313.1 L682,309.3 L681,307 L680,305.9 L679,305.5 L677.8,305.4 L676.5,304.5 L675.2,311.9 L674,311.5 L673,315.8 L672,318.5 L671,319.1 L670,314.2 L669,313.5 L668,310.9 L667,309.5 L666,312 L665,311 L664,314.6 L663,316.5 L662,318.1 L661,321.5 L660,323.3 L659,320.4 L658,320.8 L657,317.2 L656,316.5 L655,314 L654,314.7 L653,311.5 L652,314.4 L651,316.5 L649.8,319.8 L648.6,323.3 L647.7,323.4 L646.9,325.6 L646,325.5 L645,325.9 L644,327.9 L643,329.5 L642,331.5 L641.1,332.2 L640.2,336 L639.3,337.2 L638.2,337.6 L637.1,339 L636,338.5 L635.2,338.4 L634.5,336.5 L633.5,339.9 L632.5,342.6 L631.5,343.5 L630.8,348.2 L630,350.5 L629.1,355.6 L628.3,362.5 L627.1,363.1 L626,365.5 L625.1,366.3 L624.2,368.5 L623.4,369.1 L622.5,370 L621.4,371.1 L620.2,372.8 L619.1,373.9 L618,375.5 L617,375 L615.9,374.9 L614.8,373 L613.8,371.5 L612.8,371.4 L611.9,370 L610.9,368.6 L609.9,371.4 L609,371.1 L608,370 L607,372.9 L606,375.5 L605,376.2 L604,378.5 L603,390.5 L602,391.1 L601,393 L600,393.9 L599,389.7 L598,388.5 L597,386.1 L596,385.5 L595,384.5 L594,384.1 L593,383.4 L592,382.4 L591,384.5 L590,383 L589,380.6 L588,381.1 L587,380.5 L586,381.5 L585,379.7 L584,379.5 L583,378.8 L582,378.2 L581,376.7 L580,377.5 L579,376.5 L578,375.5 L577,375.5 L576,375 L575,376.3 L574,376.8 L573,374.5 L572,377.1 L571,376.5 L570,380.5 L569,384.8 L568,387.5 L567,389.5 L566,389.6 L565,390.5 L563.8,392.3 L562.6,396.5 L561.8,404.3 L561,410.5 L560,426.5 L559,424.1 L558,423 L557,422.5 L556,423.2 L555,420.1 L554,419.5 L553,419.2 L552,416.4 L551,414.5 L550,412.7 L549,411.6 L548,409.1 L547,407.9 L546,408.4 L545,406.5 L544,404.6 L543,405.5 L542,411.4 L541,415.5 L540,422.3 L539,429.5 L538,429.4 L537,433.3 L536,434.5 L535,435.4 L534,437.2 L533,435 L532,436.5 L531,435.7 L530,436.4 L529,436 L528,433.4 L527,431.5 L526,429.5 L525,427.2 L524,425 L523,422.6 L522,420.2 L521,416.8 L520,416.5 L519,415.1 L518,413.5 L517,410.5 L516,408 L515,407.8 L514,405.5 L513,406.6 L512,402.2 L511,401.7 L510,401 L509,398 L508,398.4 L507,400.6 L506,396.5 L505,398 L504,395.4 L503,394 L502,391.5 L501,390.6 L500,390.5 L499,387.6 L498,388.4 L497,387.3 L496,387 L495,384.4 L494,382.3 L493,381.8 L492,378.5 L491.1,374.9 L490.2,375.5 L489.3,371.9 L488.2,373.1 L487.1,371.3 L486,372.5 L484.8,371.3 L483.5,373.5 L482.6,374 L481.8,378.9 L480.9,381.1 L480,382.5 L479.1,385.3 L478.2,391.1 L477.4,392.7 L476.5,396.5 L475.2,393.9 L474,390.5 L473,387.7 L472,382.5 L471,378.3 L470,375.9 L469,374.5 L468,370.3 L467,367.6 L466,366.1 L465,367.1 L464,370 L463,370.5 L462,372 L461,373.2 L460,375.5 L458.9,376.5 L457.8,377.8 L456.7,380.1 L455.6,380 L454.7,382.9 L453.9,385 L453,388.5 L452,392.8 L451,398.5 L450,402.2 L449,403.9 L448,410.5 L446.8,416.5 L445.5,420.5 L444.5,416.3 L443.6,413.4 L442.6,410.6 L441.6,408.5 L440.7,405.7 L439.8,404.8 L438.9,402.7 L438,400.5 L436.9,397.6 L435.8,396.6 L434.7,394 L433.8,392.9 L432.9,391.4 L432,390.5 L431,386.6 L430,382.5 L429,388.6 L428,393.5 L427,397.8 L426,398.5 L425,400.1 L424,401.8 L423,405.5 L422,405.1 L421,405.3 L420,405.7 L419,405.6 L418,405.5 L417,407.7 L416,409.4 L415,412.7 L414,415.4 L413,415.5 L412,417.4 L411,420.1 L410,422.8 L409,426.5 L408,427.1 L407,425.8 L406,425.3 L405,424.5 L404,422.7 L403,423.2 L402,421.5 L401,420.1 L400,416.4 L399,417.1 L398,416.5 L397,414 L396,416.3 L395,414.5 L394,416.7 L393,417.7 L392,417.6 L391,418.5 L390,420.5 L389,421.3 L388,424.3 L387,422.7 L386,426.5 L385,426.7 L384,426.3 L383,424.5 L382,423.5 L381,423.3 L380,420.5 L379.1,418.9 L378.2,419.7 L377.4,415.9 L376.5,417.2 L375.2,420.9 L374,426.5 L373,432.3 L372,435.5 L371,435.1 L370,433.7 L369,432.5 L368,433.7 L367,431.3 L366,431.7 L365,431.2 L364,433 L363,433.1 L362,436.5 L361,436.8 L360,439.6 L359,442.5 L358,445.1 L357,444.9 L356,444.5 L355,441.6 L354,440.6 L353,438.2 L352,443.8 L351,447.3 L350,450.5 L349,454.8 L348,456.8 L347,456.8 L346,461.5 L345,460.6 L344,462.4 L343,461.9 L342,463.5 L341,464.4 L340,465.4 L339,466.5 L338,475.4 L337,480.6 L336,486.5 L335,489.2 L334,488.4 L333,490.5 L332,490.9 L331,493.1 L330,495.5 L329,496.5 L328,497.9 L327,501.7 L326,502.5 L325,506.5 L324,506.8 L323,511.5 L322,508.2 L321,509.3 L320,505.5 L319,505.5 L318,501.8 L317,499 L316,500 L315,500 L314,497 L313,498 L312,497.5 L311,494.1 L310,495.3 L309,494.5 L308,497.1 L307,499.7 L306,504.3 L305,502.5 L304,502.5 L303,506.2 L302,506 L301,509.5 L300,511.7 L299,515.1 L298,515.5 L297,515.1 L296,519.3 L295,522.5 L293.9,525.5 L292.8,530.4 L291.6,531 L290.5,533.5 L289.2,536.7 L288,539.5 L287,543.6 L286,550.5 L285,565.5 L284.2,571 L283.5,577.5 L282.4,578.4 L281.2,581.3 L280.1,582.6 L279,582 L278,580.3 L277,581.5 L276,580.2 L275,579 L274,578.5 L273,580.8 L272,581.6 L271,582.5 L270,583.6 L269,584.1 L268,585.5 L266.9,586.6 L265.8,588.3 L264.8,588 L263.7,590 L262.6,590.3 L261.7,590.8 L260.8,591.7 L259.9,592.7 L259,594.5 L258,594.4 L257,598.6 L256,600.2 L254.9,601.5 L253.7,602.9 L252.6,601.9 L251.7,602.4 L250.9,600.8 L250,601 L249,599.9 L248,602.3 L247,599.8 L246,599.5 L245,600.9 L244,599 L243,598.5 L242.1,598.9 L241.2,600.7 L240.3,598 L239.4,597.5 L238.3,600 L237.1,602.5 L236,606.5 L234.9,609.9 L233.9,613.7 L232.8,613.5 L231.8,613.9 L230.9,609.9 L229.9,611.8 L228.9,612.2 L228,611 L227,610.5 L226,609.1 L225,611.5 L224,610.1 L223,609.4 L222,607.8 L221,608.5 L220,606.8 L219,608.7 L218,610.5 L217,609.5 L216,610.5 L215,609 L214,611.5 L213,610.2 L212,610.9 L211,612.3 L210,613.4 L209,613.3 L208,613.5 L207,614.1 L206,614 L205,615.8 L204,617.2 L203,617.1 L202,618 L201,620.4 L200,621.8 L199,618.6 L198,620.5 L196.9,622 L195.8,622.6 L194.6,622.3 L193.5,622.5 L192.4,624.4 L191.2,621.2 L190.1,621.4 L189,621.5 L188,623.3 L187,621.9 L186,621.1 L185,621.5 L184,620.5 L183,621.9 L182,622.7 L181,623.1 L180,622.5 L178.9,624.6 L177.8,623.9 L176.8,623.3 L175.7,623 L174.6,624.5 L173.7,624.4 L172.8,625.9 L171.8,626.5 L170.9,627.2 L170,627.5 L169,627.9 L168,627.7 L167,626.5 L166,628.5 L165,626.5 L164,627.6 L163,628.5 L162,627.4 L161,629.1 L160,629.5 L158.9,631.3 L157.8,633.2 L156.7,632.8 L155.6,634.1 L154.7,634.8 L153.7,632.6 L152.8,633.8 L151.9,632.4 L150.9,632.7 L150,631.5 L149,630.7 L148,633.1 L147,629.9 L146,630.5 L145,631.6 L144,630.4 L143,632.1 L142,632.5 L141,633.2 L140,633 L139,634.2 L138,633.5 L137,634.1 L136,632.9 L135,635.6 L134,634.9 L133,638.9 L132,635.5 L131,635.8 L130,634.8 L129,635.8 L128,634.3 L127,636 L126,636.2 L125,635.2 L124,637.8 L123,635.5 L122,638 L121,639.3 L120,638.5 L119,639.6 L118,639.5 L117,639.4 L116,639.5 L115,640.3 L114,640.5 L113,640.8 L112,639.6 L111,640.1 L110,640.8 L109,644.2 L108,641.5 L107,640.9 L106,640.9 L105,641.8 L104,640.5 L103,644.2 L102,645 L101,646.5 L100,646.6 L99,643.7 L98,644.5 L97,642.9 L96,645.1 L95,644.1 L94,643.2 L93,643 L92,641.8 L91,642.9 L90,644.8 L89,644.4 L88,642.9 L87,644.5 Z" fill="#b5cff5"/>
<path d="M87,639.8 L88,639.8 L89,638.7 L90,638.7 L91,638.7 L92,638.7 L93,638.7 L94,638.7 L95,638.7 L96,639.8 L97,639.8 L98,639.8 L99,639.8 L100,639.8 L101,637.4 L102,637.4 L103,637.4 L104,637.4 L105,637.4 L106,637.4 L107,637.4 L108,637 L109,636.5 L110,636.5 L111,636.5 L112,636.5 L113,636.4 L114,636.3 L115,636.3 L116,636.3 L117,635.4 L118,635.4 L119,634.9 L120,632.4 L121,632.4 L122,632.1 L123,632.1 L124,632.1 L125,631.2 L126,631.2 L127,631.2 L128,631.2 L129,631.2 L130,631.2 L131,631.2 L132,631.7 L133,629.8 L134,629.8 L135,629.8 L136,629.8 L137,629.8 L138,629.8 L139,629.4 L140,629 L141,627.3 L142,627.3 L143,627.3 L144,626.8 L145,626.8 L146,626.8 L147,626.8 L148,626.8 L149,626.8 L150,626.8 L150.9,627.6 L151.9,627.6 L152.8,628.4 L153.7,629.3 L154.7,629.3 L155.6,628.2 L156.7,626.4 L157.8,626 L158.9,624.3 L160,624.3 L161,624.3 L162,623.4 L163,623.4 L164,623.4 L165,623.4 L166,623.4 L167,623.4 L168,623.4 L169,623.4 L170,622.8 L170.9,621.3 L171.8,621.3 L172.8,619.9 L173.7,619.9 L174.6,619.9 L175.7,619.9 L176.8,619.4 L177.8,619.4 L178.9,619.4 L180,618.8 L181,617.4 L182,617.4 L183,617.4 L184,617.4 L185,617.4 L186,617.4 L187,617.4 L188,618 L189,618 L190.1,618.1 L191.2,618.1 L192.4,618.1 L193.5,618.1 L194.6,617.4 L195.8,615.5 L196.9,615.5 L198,615.5 L199,614.9 L200,614 L201,614 L202,612.7 L203,610.9 L204,610.9 L205,610.4 L206,610.2 L207,610.2 L208,609.2 L209,607.8 L210,607.1 L211,607.1 L212,605.9 L213,605.9 L214,605.9 L215,605.9 L216,605.6 L217,603.7 L218,603.7 L219,603.7 L220,603.7 L221,603.7 L222,603.7 L223,603.7 L224,604.7 L225,604.7 L226,606 L227,606 L228,606 L228.9,606 L229.9,606.8 L230.9,606.8 L231.8,606.8 L232.8,603.4 L233.9,599.4 L234.9,596.9 L236,594.4 L237.1,594.4 L238.3,594.4 L239.4,594.4 L240.3,594.4 L241.2,594.4 L242.1,594.4 L243,594.9 L244,595.4 L245,595.4 L246,595.4 L247,595.9 L248,596.4 L249,596.4 L250,596.7 L250.9,596.8 L251.7,596.8 L252.6,597.1 L253.7,595.5 L254.9,591.3 L256,591.3 L257,589.6 L258,588.6 L259,587.7 L259.9,587.2 L260.8,586.9 L261.7,584.9 L262.6,584.9 L263.7,583.5 L264.8,582.4 L265.8,581 L266.9,580.5 L268,579.4 L269,578.5 L270,577.7 L271,575.4 L272,575.4 L273,575.4 L274,575.4 L275,575.4 L276,575.4 L277,575.4 L278,575.9 L279,575.3 L280.1,574.4 L281.2,567.9 L282.4,562.4 L283.5,547.4 L284.2,540.5 L285,536.4 L286,533.6 L287,530.4 L288,527.9 L289.2,527.3 L290.5,522.4 L291.6,519.4 L292.8,516.2 L293.9,512 L295,512 L296,512 L297,508.6 L298,506.4 L299,502.9 L300,502.9 L301,499.4 L302,499.4 L303,499.4 L304,496.6 L305,494 L306,491.4 L307,491.4 L308,491 L309,491 L310,491 L311,491 L312,491 L313,491 L314,491 L315,493.9 L316,493.9 L317,493.9 L318,495.9 L319,495.9 L320,495.9 L321,498.7 L322,502.4 L323,499.4 L324,498.6 L325,494.8 L326,493.4 L327,492.4 L328,490 L329,487.8 L330,487.4 L331,485.3 L332,485.3 L333,483.4 L334,477.5 L335,472.3 L336,463.4 L337,462.3 L338,461.3 L339,460.4 L340,458.8 L341,458.8 L342,457.5 L343,457.5 L344,453.7 L345,453.7 L346,451.7 L347,447.4 L348,444.2 L349,440.7 L350,435.1 L351,435.1 L352,435.1 L353,435.1 L354,435.1 L355,435.1 L356,435.1 L357,436.5 L358,433.7 L359,433.4 L360,430 L361,429.9 L362,428.1 L363,428.1 L364,428.1 L365,428.1 L366,428.1 L367,428.1 L368,428.1 L369,428.2 L370,428.2 L371,423.4 L372,417.8 L373,414.1 L374,412.8 L375.2,412.8 L376.5,412.8 L377.4,412.8 L378.2,412.8 L379.1,412.8 L380,412.8 L381,415.8 L382,415.8 L383,417.4 L384,419.6 L385,419.6 L386,418.2 L387,417.4 L388,415.4 L389,414.5 L390,414.5 L391,413.6 L392,411.4 L393,411.4 L394,410.9 L395,410.9 L396,410.9 L397,410.9 L398,410.9 L399,410.9 L400,410.9 L401,413.3 L402,413.3 L403,413.3 L404,417 L405,418.4 L406,419.6 L407,419.6 L408,417 L409,414.3 L410,412.4 L411,412.3 L412,409.6 L413,406.3 L414,404.6 L415,402.4 L416,402.4 L417,402.4 L418,402.2 L419,402 L420,402 L421,398.7 L422,397 L423,395.4 L424,394.7 L425,390.4 L426,385.5 L427,379.4 L428,379.4 L429,379.4 L430,379.4 L431,379.4 L432,379.4 L432.9,379.4 L433.8,383.5 L434.7,387.4 L435.8,388.3 L436.9,389.8 L438,390.9 L438.9,393.5 L439.8,394.5 L440.7,397.4 L441.6,399.6 L442.6,401.7 L443.6,402.6 L444.5,405.4 L445.5,400.8 L446.8,399.1 L448,395.4 L449,389.7 L450,385.4 L451,381.9 L452,379.8 L453,376.9 L453.9,376.9 L454.7,374.7 L455.6,373.4 L456.7,372.4 L457.8,370.1 L458.9,368.9 L460,367.4 L461,366.9 L462,364 L463,363 L464,363 L465,363 L466,363 L467,363 L468,363 L469,363 L470,364.5 L471,367.2 L472,371.4 L473,372.8 L474,375.2 L475.2,379.4 L476.5,382.2 L477.4,379.4 L478.2,378 L479.1,375.8 L480,370.9 L480.9,370.4 L481.8,368.2 L482.6,368.2 L483.5,368.2 L484.8,368.2 L486,368.2 L487.1,368.2 L488.2,368.2 L489.3,368.2 L490.2,368.2 L491.1,368.8 L492,368.8 L493,371.8 L494,371.8 L495,375.4 L496,378.7 L497,379.2 L498,381.3 L499,383.9 L500,384.2 L501,384.5 L502,384.5 L503,387.4 L504,387.5 L505,388.4 L506,390.9 L507,392.3 L508,393.4 L509,393.4 L510,394.9 L511,394.9 L512,394.9 L513,397.9 L514,398.6 L515,399.1 L516,402.4 L517,402.4 L518,404.7 L519,404.9 L520,407.4 L521,410.4 L522,412 L523,413.4 L524,413.7 L525,417.1 L526,419.5 L527,421.9 L528,424.1 L529,426.4 L530,428.4 L531,430.3 L532,431.9 L533,431.4 L534,430.2 L535,426.3 L536,426.3 L537,419.2 L538,412.4 L539,408.3 L540,402.4 L541,401.5 L542,401.5 L543,401.5 L544,401.5 L545,401.5 L546,401.5 L547,401.5 L548,403.4 L549,404.8 L550,404.8 L551,406 L552,408.5 L553,409.6 L554,411.4 L555,413.3 L556,416.1 L557,416.4 L558,407.4 L559,401.2 L560,393.4 L561,389.2 L561.8,387.4 L562.6,386.5 L563.8,386.4 L565,384.4 L566,381.7 L567,377.4 L568,373.4 L569,373.4 L570,371.4 L571,371.4 L572,371.4 L573,371.4 L574,371.4 L575,371.4 L576,371.4 L577,371.9 L578,371.9 L579,371.9 L580,372.4 L581,372.4 L582,373.4 L583,373.6 L584,373.6 L585,375.1 L586,375.7 L587,376.4 L588,376.6 L589,377.4 L590,377.4 L591,377.5 L592,377.5 L593,379.3 L594,379.3 L595,379.3 L596,380.3 L597,381 L598,381.4 L599,382.4 L600,383 L601,375.4 L602,373.1 L603,372.4 L604,369.8 L605,366.9 L606,366.9 L607,366.9 L608,365.5 L609,365.5 L609.9,365.5 L610.9,365.5 L611.9,365.5 L612.8,365.5 L613.8,365.5 L614.8,366.9 L615.9,368.3 L617,368.4 L618,368 L619.1,366.9 L620.2,366 L621.4,365.4 L622.5,363.2 L623.4,362.4 L624.2,360 L625.1,359.4 L626,352.5 L627.1,347.4 L628.3,345.1 L629.1,340.4 L630,339.5 L630.8,336.8 L631.5,333.4 L632.5,333.4 L633.5,333.4 L634.5,333.4 L635.2,333.4 L636,333.4 L637.1,332.9 L638.2,329.1 L639.3,328.4 L640.2,326.4 L641.1,324.8 L642,322.8 L643,322.4 L644,322.4 L645,320.3 L646,320.2 L646.9,316.7 L647.7,313.4 L648.6,311.3 L649.8,308.4 L651,308.4 L652,308.4 L653,308.4 L654,308.4 L655,308.4 L656,308.4 L657,310.9 L658,310.9 L659,313.4 L660,313.4 L661,311.5 L662,307.9 L663,307.9 L664,306.4 L665,306.4 L666,306.4 L667,306.4 L668,306.4 L669,306.4 L670,306.4 L671,307.8 L672,308.4 L673,301.4 L674,301.4 L675.2,301.4 L676.5,301.4 L677.8,301.4 L679,301.4 L680,301.4 L681,302.3 L682,302.4 L683,302.8 L684,303.9 L685,306.2 L686,310 L687,310.4 L688,312.2 L689,313.5 L690,313.4 L691,309.5 L692,308.4 L693,307.1 L694,303.9 L695,303.9 L696.2,303.9 L697.4,303.9 L698.3,303.9 L699.2,303.5 L700.1,303.5 L701,303.5 L702.1,303.5 L703.3,303.5 L704.4,303.5 L705.3,303.5 L706.2,304.5 L707.1,304.5 L708,304.5 L709.1,304.5 L710.3,304.7 L711.4,304.7 L712.3,304.7 L713.1,306.4 L714,306.4 L715,307.6 L716,308.8 L716.9,309.4 L717.9,311.6 L718.8,312.6 L719.7,312.6 L720.9,312.6 L722,313.7 L722.9,314.4 L723.8,315.3 L724.6,315.4 L725.5,308.6 L726.2,307.4 L727,304.8 L728,301.4 L729,299.4 L730,299.4 L731,296 L731.9,294.2 L732.7,290.4 L733.6,286.6 L734.8,286.4 L736,286.4 L737.1,286.4 L738.3,286.4 L739.2,286.4 L740.1,286.4 L741,286.4 L742,287.4 L743,284.6 L744,281.9 L745,279.4 L745.9,277 L746.7,274.1 L747.6,272.4 L748.7,258.9 L749.9,249.4 L751,245.9 L752.2,241.4 L753.4,238.5 L754.2,233.4 L755,232.7 L756,231 L757,231 L758.1,230.9 L759.2,230.9 L760.4,230.9 L761.5,230.9 L762.6,226.1 L763.8,221.8 L764.7,214.4 L765.5,210.2 L766.4,208.4 L767.3,206 L768.1,202.7 L769,202.7 L770,202.7 L771,202.7 L772,202.7 L772.9,202.7 L773.8,202.7 L774.6,203 L775.5,201.9 L776.6,200.4 L777.8,200.4 L778.9,200.4 L780,200.4 L781,200.4 L781.9,200.4 L782.9,200.4 L783.8,202.2 L784.8,196.9 L785.9,193.4 L787,179.4 L788.2,173.7 L789.5,164.4 L790.5,157 L791.2,152.4 L792,147.8 L793.2,142.6 L794.5,140.4 L795.5,137.5 L796.5,133.3 L797.5,131.3 L798.4,128.4 L799.2,125.7 L800.1,123.2 L801,122.7 L801.9,119.4 L802.8,118.8 L803.6,116.1 L804.5,114.4 L805.5,112.1 L806.5,110.6 L807.5,110.4 L808.5,109.2 L809.5,109.2 L810.5,105.4 L811.4,104.4 L812.2,102 L813.1,100.6 L814,98.7 L814.9,98.4 L815.8,95.7 L816.6,94.8 L817.5,93.4 L818.5,92.5 L819.5,88.4 L820.5,85.9 L821.8,83.4 L823,78.8 L824,75.4 L825,69.6 L826,67.4 L827,62.6 L828,57.4 L829,52.9 L830,48.4 L831,43.6 L831.8,41.4 L832.5,37.2 L833.5,35.4 L834.5,33.4 L835.8,31.4 L837,31.3 L838.2,28.9 L839.5,28.9 L840.8,28.9 L842,28.9" fill="none" stroke="#b9d2f5" stroke-width="1.5" stroke-linejoin="round"/>
<path d="M87.5,643.1v3.2M88.5,641.3v5.3M96.5,641.9v5.1M97.5,638.2v5.7M99.5,641.0v5.4M100.5,641.9v5.1M104.5,637.1v5.9M105.5,638.1v5.3M106.5,639.3v2.3M107.5,637.1v5.8M110.5,635.9v8.8M111.5,635.6v6.6M114.5,637.6v6.6M120.5,635.2v5.4M121.5,638.6v3.1M122.5,635.5v5.3M124.5,634.7v5.1M130.5,633.8v4.6M134.5,631.3v6.1M138.5,631.8v5.5M141.5,632.5v2.2M144.5,627.5v3.7M145.5,628.1v6.0M149.5,628.6v5.2M151.4,631.6v4.4M154.2,630.2v3.8M165.5,622.1v5.2M166.5,625.5v5.2M168.5,623.7v4.8M169.5,624.4v4.3M173.3,624.8v2.9M176.2,619.3v6.2M187.5,619.8v3.9M191.8,618.2v6.3M196.2,618.7v7.5M197.4,621.4v2.9M203.5,614.1v6.2M204.5,616.3v3.9M206.5,610.6v4.4M209.5,611.8v4.7M235.4,606.1v7.8M237.6,601.1v3.4M238.8,595.2v5.6M240.8,594.6v6.6M241.7,600.0v2.9M244.5,598.0v2.1M245.5,599.3v4.6M247.5,598.5v2.8M248.5,598.4v5.5M252.2,597.9v8.2M257.5,597.9v4.5M262.2,585.8v7.8M263.1,589.8v2.7M268.5,584.3v2.8M269.5,579.7v6.7M272.5,578.7v3.9M274.5,574.3v7.7M276.5,578.5v4.7M277.5,578.8v4.8M281.8,577.3v6.8M284.0,573.3v5.9M284.8,568.1v4.2M286.5,548.6v2.8M287.5,541.0v7.0M288.5,535.9v4.7M289.8,534.1v8.4M293.2,528.2v6.6M294.4,522.5v6.1M295.5,517.5v9.9M296.5,516.0v5.4M297.5,512.2v5.1M298.5,513.2v6.4M299.5,513.7v5.9M300.5,507.0v8.3M302.5,501.8v5.2M303.5,505.3v5.2M305.5,500.2v7.4M307.5,498.2v2.9M308.5,494.8v3.2M310.5,492.5v6.9M313.5,496.0v4.8M314.5,494.7v6.7M319.5,503.5v4.4M321.5,507.1v5.5M325.5,502.5v9.4M326.5,500.4v5.3M327.5,498.0v9.6M328.5,494.2v8.8M329.5,491.7v8.7M330.5,494.6v2.7M333.5,485.8v7.2M334.5,487.4v6.9M335.5,484.6v8.1M338.5,470.8v10.5M341.5,460.1v6.3M343.5,458.8v8.2M344.5,459.4v3.9M345.5,459.2v7.2M348.5,453.2v8.1M349.5,451.7v8.1M350.5,449.1v4.5M351.5,445.1v5.9M352.5,440.9v4.8M354.5,437.2v4.1M356.5,439.7v8.6M357.5,442.5v6.3M361.5,431.8v10.1M363.5,430.6v6.1M365.5,428.3v5.7M367.5,430.6v5.2M372.5,432.3v4.1M373.5,429.8v5.8M374.5,425.8v5.1M375.8,419.4v3.8M377.0,415.6v2.4M381.5,419.2v5.8M385.5,422.6v5.2M386.5,421.7v5.3M387.5,420.9v4.1M388.5,419.8v9.5M389.5,419.2v5.8M390.5,419.9v6.1M391.5,415.7v8.4M393.5,416.3v3.6M396.5,412.0v6.7M397.5,412.7v6.6M399.5,413.8v4.9M401.5,419.2v5.5M402.5,416.9v9.8M404.5,419.0v9.3M405.5,423.6v2.6M406.5,421.6v5.3M407.5,424.2v5.7M409.5,423.0v8.8M411.5,418.2v7.5M413.5,412.1v4.4M415.5,409.8v6.3M416.5,406.2v5.3M417.5,403.6v5.1M418.5,401.6v5.8M419.5,402.7v4.5M422.5,402.6v7.2M423.5,400.8v7.9M424.5,398.8v7.0M425.5,396.7v8.3M426.5,395.7v7.9M428.5,388.7v6.2M430.5,379.3v5.0M431.5,382.6v8.8M433.4,388.7v4.4M435.2,393.3v4.4M439.4,401.5v1.8M440.3,402.3v5.4M441.2,401.6v5.0M444.1,409.3v5.9M445.0,414.4v2.6M446.0,417.2v6.7M447.2,413.3v4.1M449.5,402.3v3.0M453.5,386.2v4.9M454.4,380.1v5.6M455.2,379.0v9.8M456.1,377.5v7.1M457.2,378.5v7.0M458.3,375.6v4.4M459.4,375.6v1.5M463.5,368.9v5.2M464.5,367.5v8.2M465.5,365.1v7.9M467.5,365.3v6.4M468.5,368.3v6.4M472.5,380.2v7.4M473.5,383.7v5.7M474.5,389.2v4.8M475.8,392.5v3.1M477.0,394.6v4.8M480.5,380.3v3.1M482.2,377.1v2.3M483.1,372.4v4.3M486.5,370.4v3.5M488.7,369.2v8.4M490.7,373.6v4.6M491.6,370.5v6.8M493.5,381.0v3.4M494.5,381.6v2.0M496.5,385.1v4.7M497.5,386.2v5.5M498.5,384.6v7.9M499.5,386.2v3.5M501.5,388.3v7.5M502.5,389.7v4.2M503.5,393.3v1.3M508.5,394.9v9.1M509.5,394.4v7.8M512.5,398.9v4.3M513.5,404.3v3.1M514.5,403.5v5.2M515.5,406.6v3.9M516.5,406.8v5.4M517.5,409.6v3.3M518.5,412.4v4.9M522.5,417.9v4.8M523.5,420.3v3.1M524.5,421.9v6.2M525.5,425.5v2.3M526.5,425.0v8.1M527.5,428.0v5.0M528.5,430.1v9.0M529.5,432.9v8.8M533.5,432.6v4.4M536.5,429.9v5.3M537.5,430.5v5.0M538.5,424.5v6.2M539.5,428.0v5.8M540.5,421.8v4.0M541.5,413.9v4.8M543.5,402.2v6.9M546.5,406.3v7.4M547.5,404.2v8.0M551.5,411.2v6.5M553.5,417.4v6.4M554.5,417.9v3.4M555.5,418.8v4.6M556.5,422.4v1.7M557.5,418.8v4.8M558.5,419.0v7.1M559.5,419.7v9.7M560.5,424.9v4.9M562.3,400.6v5.6M564.3,390.3v6.7M568.5,383.8v7.6M571.5,374.4v6.4M572.5,375.7v1.9M576.5,371.4v6.4M578.5,370.8v10.6M579.5,372.8v4.9M580.5,375.7v6.3M582.5,376.2v2.6M583.5,376.1v5.2M584.5,375.4v9.2M585.5,377.4v6.2M588.5,377.5v7.1M590.5,381.7v2.4M592.5,379.7v3.9M593.5,382.8v4.2M594.5,380.7v5.3M595.5,381.8v5.2M596.5,384.7v1.6M598.5,387.6v2.4M599.5,384.7v6.6M601.5,390.6v7.3M602.5,390.3v4.3M605.5,371.5v10.0M607.5,368.7v8.7M608.5,369.4v2.0M609.5,370.3v3.3M611.4,365.8v3.4M612.4,365.2v5.4M613.3,367.2v9.0M615.3,368.9v9.2M618.5,370.7v7.5M620.8,368.2v5.2M623.0,367.8v4.8M625.6,362.9v5.8M626.5,360.9v6.8M627.6,361.1v6.6M628.8,358.7v7.3M630.5,349.5v2.3M631.2,345.8v3.0M632.0,341.2v4.6M633.0,337.8v6.4M635.0,332.6v5.0M636.5,333.7v6.5M637.6,335.3v5.2M638.7,334.1v9.3M639.8,335.9v3.8M641.6,328.9v5.9M643.5,326.2v8.7M646.5,322.4v4.2M649.1,319.8v6.3M650.3,318.2v5.3M652.5,313.8v4.6M653.5,308.3v6.9M655.5,311.4v8.6M657.5,313.4v9.8M658.5,316.4v5.6M660.5,321.7v6.7M665.5,306.0v5.8M668.5,306.8v7.1M669.5,309.1v6.0M670.5,310.8v4.3M673.5,314.2v6.5M677.0,299.9v9.5M678.2,303.3v3.2M679.5,303.4v7.3M681.5,305.7v4.0M685.5,310.4v6.6M689.5,315.2v6.4M690.5,316.5v4.3M692.5,313.4v7.5M693.5,315.4v5.4M694.5,311.5v2.2M697.9,305.6v7.4M700.6,305.2v4.6M701.5,305.2v6.2M703.8,307.1v5.8M705.8,305.7v5.5M707.6,305.0v6.5M710.8,304.8v7.3M713.6,311.1v3.6M714.5,310.0v8.2M715.5,311.1v7.8M716.5,314.1v3.6M718.4,313.4v4.8M722.5,319.6v6.4M723.4,319.4v4.7M726.0,321.0v10.3M726.8,320.5v6.4M727.5,315.9v4.8M733.2,299.2v8.3M736.5,290.9v5.3M738.8,284.5v6.6M739.7,289.8v3.8M741.5,291.2v5.3M744.5,288.2v8.7M746.4,285.1v3.2M750.4,275.1v5.5M751.5,274.5v5.8M752.7,259.2v4.0M754.7,248.1v4.2M755.5,240.5v5.9M756.5,240.9v2.4M757.5,233.5v6.0M759.8,229.8v5.7M762.0,231.7v6.2M765.2,234.4v1.9M768.6,210.4v3.5M769.5,209.6v7.7M772.5,203.7v3.3M773.4,205.4v6.6M774.2,204.8v6.8M778.2,204.4v7.2M779.4,201.2v5.7M780.5,201.1v5.6M781.5,202.9v5.4M782.4,205.5v5.1M783.4,206.2v5.7M784.3,208.3v3.5M785.3,210.4v4.4M787.5,205.0v3.3M790.0,193.3v9.0M791.0,179.3v5.7M791.8,173.6v7.0M792.5,164.8v6.1M795.0,154.6v2.8M796.0,146.8v6.9M798.0,141.7v6.0M798.9,135.7v10.0M799.8,134.5v6.9M802.4,124.9v4.7M807.0,114.5v9.3M809.0,111.4v6.6M812.8,109.1v6.9M814.5,105.0v5.4M815.4,103.2v6.5M816.2,102.7v6.1M818.0,100.5v2.2M819.0,94.0v8.4M821.0,94.1v5.8M823.5,87.1v7.5M824.5,86.6v5.0M827.5,74.9v6.2M829.5,66.7v5.3M831.5,58.4v3.5M832.2,52.8v6.5M833.0,48.4v8.2M834.0,43.5v6.3M836.2,36.7v5.4M837.5,34.7v7.4M838.8,35.7v5.8M840.0,30.8v6.6" stroke="#4a6aa6" stroke-opacity="0.8" stroke-width="1" fill="none"/>
<path d="M87,644 L88,642.4 L89,643.9 L90,644.3 L91,642.4 L92,641.3 L93,642.5 L94,642.7 L95,643.6 L96,644.6 L97,642.4 L98,644 L99,643.2 L100,646.1 L101,646 L102,644.5 L103,643.7 L104,640 L105,641.3 L106,640.4 L107,640.4 L108,641 L109,643.7 L110,640.3 L111,639.6 L112,639.1 L113,640.3 L114,640 L115,639.8 L116,639 L117,638.9 L118,639 L119,639.1 L120,638 L121,638.8 L122,637.5 L123,635 L124,637.3 L125,634.7 L126,635.7 L127,635.5 L128,633.8 L129,635.3 L130,634.3 L131,635.3 L132,635 L133,638.4 L134,634.4 L135,635.1 L136,632.4 L137,633.6 L138,633 L139,633.7 L140,632.5 L141,632.7 L142,632 L143,631.6 L144,629.9 L145,631.1 L146,630 L147,629.4 L148,632.6 L149,630.2 L150,631 L150.9,632.2 L151.9,631.9 L152.8,633.3 L153.7,632.1 L154.7,634.3 L155.6,633.6 L156.7,632.3 L157.8,632.7 L158.9,630.8 L160,629 L161,628.6 L162,626.9 L163,628 L164,627.1 L165,626 L166,628 L167,626 L168,627.2 L169,627.4 L170,627 L170.9,626.7 L171.8,626 L172.8,625.4 L173.7,623.9 L174.6,624 L175.7,622.5 L176.8,622.8 L177.8,623.4 L178.9,624.1 L180,622 L181,622.6 L182,622.2 L183,621.4 L184,620 L185,621 L186,620.6 L187,621.4 L188,622.8 L189,621 L190.1,620.9 L191.2,620.7 L192.4,623.9 L193.5,622 L194.6,621.8 L195.8,622.1 L196.9,621.5 L198,620 L199,618.1 L200,621.3 L201,619.9 L202,617.5 L203,616.6 L204,616.7 L205,615.3 L206,613.5 L207,613.6 L208,613 L209,612.8 L210,612.9 L211,611.8 L212,610.4 L213,609.7 L214,611 L215,608.5 L216,610 L217,609 L218,610 L219,608.2 L220,606.3 L221,608 L222,607.3 L223,608.9 L224,609.6 L225,611 L226,608.6 L227,610 L228,610.5 L228.9,611.7 L229.9,611.3 L230.9,609.4 L231.8,613.4 L232.8,613 L233.9,613.2 L234.9,609.4 L236,606 L237.1,602 L238.3,599.5 L239.4,597 L240.3,597.5 L241.2,600.2 L242.1,598.4 L243,598 L244,598.5 L245,600.4 L246,599 L247,599.3 L248,601.8 L249,599.4 L250,600.5 L250.9,600.3 L251.7,601.9 L252.6,601.4 L253.7,602.4 L254.9,601 L256,599.7 L257,598.1 L258,593.9 L259,594 L259.9,592.2 L260.8,591.2 L261.7,590.3 L262.6,589.8 L263.7,589.5 L264.8,587.5 L265.8,587.8 L266.9,586.1 L268,585 L269,583.6 L270,583.1 L271,582 L272,581.1 L273,580.3 L274,578 L275,578.5 L276,579.7 L277,581 L278,579.8 L279,581.5 L280.1,582.1 L281.2,580.8 L282.4,577.9 L283.5,577 L284.2,570.5 L285,565 L286,550 L287,543.1 L288,539 L289.2,536.2 L290.5,533 L291.6,530.5 L292.8,529.9 L293.9,525 L295,522 L296,518.8 L297,514.6 L298,515 L299,514.6 L300,511.2 L301,509 L302,505.5 L303,505.7 L304,502 L305,502 L306,503.8 L307,499.2 L308,496.6 L309,494 L310,494.8 L311,493.6 L312,497 L313,497.5 L314,496.5 L315,499.5 L316,499.5 L317,498.5 L318,501.3 L319,505 L320,505 L321,508.8 L322,507.7 L323,511 L324,506.3 L325,506 L326,502 L327,501.2 L328,497.4 L329,496 L330,495 L331,492.6 L332,490.4 L333,490 L334,487.9 L335,488.7 L336,486 L337,480.1 L338,474.9 L339,466 L340,464.9 L341,463.9 L342,463 L343,461.4 L344,461.9 L345,460.1 L346,461 L347,456.3 L348,456.3 L349,454.3 L350,450 L351,446.8 L352,443.3 L353,437.7 L354,440.1 L355,441.1 L356,444 L357,444.4 L358,444.6 L359,442 L360,439.1 L361,436.3 L362,436 L363,432.6 L364,432.5 L365,430.7 L366,431.2 L367,430.8 L368,433.2 L369,432 L370,433.2 L371,434.6 L372,435 L373,431.8 L374,426 L375.2,420.4 L376.5,416.7 L377.4,415.4 L378.2,419.2 L379.1,418.4 L380,420 L381,422.8 L382,423 L383,424 L384,425.8 L385,426.2 L386,426 L387,422.2 L388,423.8 L389,420.8 L390,420 L391,418 L392,417.1 L393,417.2 L394,416.2 L395,414 L396,415.8 L397,413.5 L398,416 L399,416.6 L400,415.9 L401,419.6 L402,421 L403,422.7 L404,422.2 L405,424 L406,424.8 L407,425.3 L408,426.6 L409,426 L410,422.3 L411,419.6 L412,416.9 L413,415 L414,414.9 L415,412.2 L416,408.9 L417,407.2 L418,405 L419,405.1 L420,405.2 L421,404.8 L422,404.6 L423,405 L424,401.3 L425,399.6 L426,398 L427,397.3 L428,393 L429,388.1 L430,382 L431,386.1 L432,390 L432.9,390.9 L433.8,392.4 L434.7,393.5 L435.8,396.1 L436.9,397.1 L438,400 L438.9,402.2 L439.8,404.3 L440.7,405.2 L441.6,408 L442.6,410.1 L443.6,412.9 L444.5,415.8 L445.5,420 L446.8,416 L448,410 L449,403.4 L450,401.7 L451,398 L452,392.3 L453,388 L453.9,384.5 L454.7,382.4 L455.6,379.5 L456.7,379.6 L457.8,377.3 L458.9,376 L460,375 L461,372.7 L462,371.5 L463,370 L464,369.5 L465,366.6 L466,365.6 L467,367.1 L468,369.8 L469,374 L470,375.4 L471,377.8 L472,382 L473,387.2 L474,390 L475.2,393.4 L476.5,396 L477.4,392.2 L478.2,390.6 L479.1,384.8 L480,382 L480.9,380.6 L481.8,378.4 L482.6,373.5 L483.5,373 L484.8,370.8 L486,372 L487.1,370.8 L488.2,372.6 L489.3,371.4 L490.2,375 L491.1,374.4 L492,378 L493,381.3 L494,381.8 L495,383.9 L496,386.5 L497,386.8 L498,387.9 L499,387.1 L500,390 L501,390.1 L502,391 L503,393.5 L504,394.9 L505,397.5 L506,396 L507,400.1 L508,397.9 L509,397.5 L510,400.5 L511,401.2 L512,401.7 L513,406.1 L514,405 L515,407.3 L516,407.5 L517,410 L518,413 L519,414.6 L520,416 L521,416.3 L522,419.7 L523,422.1 L524,424.5 L525,426.7 L526,429 L527,431 L528,432.9 L529,435.5 L530,435.9 L531,435.2 L532,436 L533,434.5 L534,436.7 L535,434.9 L536,434 L537,432.8 L538,428.9 L539,429 L540,421.8 L541,415 L542,410.9 L543,405 L544,404.1 L545,406 L546,407.9 L547,407.4 L548,408.6 L549,411.1 L550,412.2 L551,414 L552,415.9 L553,418.7 L554,419 L555,419.6 L556,422.7 L557,422 L558,422.5 L559,423.6 L560,426 L561,410 L561.8,403.8 L562.6,396 L563.8,391.8 L565,390 L566,389.1 L567,389 L568,387 L569,384.3 L570,380 L571,376 L572,376.6 L573,374 L574,376.3 L575,375.8 L576,374.5 L577,375 L578,375 L579,376 L580,377 L581,376.2 L582,377.7 L583,378.3 L584,379 L585,379.2 L586,381 L587,380 L588,380.6 L589,380.1 L590,382.5 L591,384 L592,381.9 L593,382.9 L594,383.6 L595,384 L596,385 L597,385.6 L598,388 L599,389.2 L600,393.4 L601,392.5 L602,390.6 L603,390 L604,378 L605,375.7 L606,375 L607,372.4 L608,369.5 L609,370.6 L609.9,370.9 L610.9,368.1 L611.9,369.5 L612.8,370.9 L613.8,371 L614.8,372.5 L615.9,374.4 L617,374.5 L618,375 L619.1,373.4 L620.2,372.3 L621.4,370.6 L622.5,369.5 L623.4,368.6 L624.2,368 L625.1,365.8 L626,365 L627.1,362.6 L628.3,362 L629.1,355.1 L630,350 L630.8,347.7 L631.5,343 L632.5,342.1 L633.5,339.4 L634.5,336 L635.2,337.9 L636,338 L637.1,338.5 L638.2,337.1 L639.3,336.7 L640.2,335.5 L641.1,331.7 L642,331 L643,329 L644,327.4 L645,325.4 L646,325 L646.9,325.1 L647.7,322.9 L648.6,322.8 L649.8,319.3 L651,316 L652,313.9 L653,311 L654,314.2 L655,313.5 L656,316 L657,316.7 L658,320.3 L659,319.9 L660,322.8 L661,321 L662,317.6 L663,316 L664,314.1 L665,310.5 L666,311.5 L667,309 L668,310.4 L669,313 L670,313.7 L671,318.6 L672,318 L673,315.3 L674,311 L675.2,311.4 L676.5,304 L677.8,304.9 L679,305 L680,305.4 L681,306.5 L682,308.8 L683,312.6 L684,313 L685,314.8 L686,317.2 L687,319.2 L688,320.5 L689,318.2 L690,318 L691,317.5 L692,316.1 L693,316 L694,312.1 L695,311 L696.2,309.7 L697.4,306.5 L698.3,307.6 L699.2,307.3 L700.1,306.6 L701,308 L702.1,306.1 L703.3,309.2 L704.4,309 L705.3,308.9 L706.2,307.1 L707.1,308.9 L708,309 L709.1,307.3 L710.3,309 L711.4,309 L712.3,310.2 L713.1,311.4 L714,312 L715,314.2 L716,316 L716.9,316.4 L717.9,315.2 L718.8,316.3 L719.7,317 L720.9,317.9 L722,320 L722.9,321 L723.8,322.8 L724.6,324.4 L725.5,325 L726.2,323.3 L727,318 L728,311.2 L729,310 L730,307.4 L731,304 L731.9,302 L732.7,302.9 L733.6,298.6 L734.8,296.8 L736,293 L737.1,289.2 L738.3,289 L739.2,290.4 L740.1,290.4 L741,292 L742,295.1 L743,296 L744,291.8 L745,290 L745.9,287.2 L746.7,284.5 L747.6,282 L748.7,279.6 L749.9,276.7 L751,275 L752.2,261.5 L753.4,252 L754.2,248.5 L755,244 L756,241.1 L757,236 L758.1,235.3 L759.2,233.6 L760.4,234.3 L761.5,233.5 L762.6,237.6 L763.8,240.5 L764.7,234.4 L765.5,228.7 L766.4,224.4 L767.3,217 L768.1,212.8 L769,211 L770,208.6 L771,205.3 L772,205.6 L772.9,205.9 L773.8,207 L774.6,207.8 L775.5,210 L776.6,207.5 L777.8,208.5 L778.9,204.5 L780,203 L781,204.8 L781.9,209.3 L782.9,208.7 L783.8,208.8 L784.8,212.6 L785.9,209.2 L787,205 L788.2,199.5 L789.5,196 L790.5,182 L791.2,176.3 L792,167 L793.2,159.6 L794.5,155 L795.5,150.4 L796.5,145.2 L797.5,143 L798.4,140.1 L799.2,135.9 L800.1,133.9 L801,131 L801.9,128.3 L802.8,125.8 L803.6,125.3 L804.5,122 L805.5,121.4 L806.5,118.7 L807.5,117 L808.5,114.7 L809.5,113.2 L810.5,113 L811.4,111.8 L812.2,112.6 L813.1,108 L814,107 L814.9,104.6 L815.8,103.2 L816.6,101.3 L817.5,101 L818.5,98.3 L819.5,97.4 L820.5,96 L821.8,95.1 L823,91 L824,88.5 L825,86 L826,81.4 L827,78 L828,72.2 L829,70 L830,65.2 L831,60 L831.8,55.5 L832.5,51 L833.5,46.2 L834.5,44 L835.8,39.8 L837,38 L838.2,36 L839.5,34 L840.8,33.9 L842,31.5" fill="none" stroke="#6282bb" stroke-width="1" stroke-linejoin="round"/>
</g>
<g class="grid" mask="url(#gm)">
<line x1="82" y1="15.5" x2="842" y2="15.5" stroke="#a282ae"/><line x1="82" y1="15.5" x2="842" y2="15.5" stroke="#4b7752" stroke-dasharray="1 1"/>
<line x1="82" y1="120.5" x2="842" y2="120.5" stroke="#a282ae"/><line x1="82" y1="120.5" x2="842" y2="120.5" stroke="#4b7752" stroke-dasharray="1 1"/>
<line x1="82" y1="226.5" x2="842" y2="226.5" stroke="#a282ae"/><line x1="82" y1="226.5" x2="842" y2="226.5" stroke="#4b7752" stroke-dasharray="1 1"/>
<line x1="82" y1="331.5" x2="842" y2="331.5" stroke="#a282ae"/><line x1="82" y1="331.5" x2="842" y2="331.5" stroke="#4b7752" stroke-dasharray="1 1"/>
<line x1="82" y1="437.5" x2="842" y2="437.5" stroke="#a282ae"/><line x1="82" y1="437.5" x2="842" y2="437.5" stroke="#4b7752" stroke-dasharray="1 1"/>
<line x1="82" y1="542.5" x2="842" y2="542.5" stroke="#a282ae"/><line x1="82" y1="542.5" x2="842" y2="542.5" stroke="#4b7752" stroke-dasharray="1 1"/>
<line x1="82" y1="648.5" x2="87" y2="648.5" stroke="#777"/>

</g>
<line x1="86.5" y1="15" x2="86.5" y2="648" stroke="#a282ae" stroke-width="1"/><line x1="86.5" y1="15" x2="86.5" y2="648" stroke="#4b7752" stroke-width="1" stroke-dasharray="1 1"/>
<line x1="842.5" y1="34.5" x2="842.5" y2="648" stroke="#5a6a8a" stroke-opacity="0.45"/>
<rect x="87" y="647" width="755" height="7" fill="#7e7e80"/>
<rect x="87" y="647" width="755" height="1" fill="#7090c0"/>
<g class="ax">
<text x="75" y="19.5">1.300.000,00</text>
<text x="75" y="124.5">1.100.000,00</text>
<text x="75" y="230.5">900.000,00</text>
<text x="75" y="335.5">700.000,00</text>
<text x="75" y="441.5">500.000,00</text>
<text x="75" y="546.5">300.000,00</text>
<text x="75" y="652.5">100.000,00</text>

</g>
<g class="xl">
<text transform="translate(92.0,658) rotate(-90)">1</text>
<text transform="translate(108.7,658) rotate(-90)">30</text>
<text transform="translate(125.4,658) rotate(-90)">59</text>
<text transform="translate(142.1,658) rotate(-90)">88</text>
<text transform="translate(158.8,658) rotate(-90)">117</text>
<text transform="translate(175.6,658) rotate(-90)">146</text>
<text transform="translate(192.3,658) rotate(-90)">175</text>
<text transform="translate(209.0,658) rotate(-90)">204</text>
<text transform="translate(225.7,658) rotate(-90)">233</text>
<text transform="translate(242.4,658) rotate(-90)">262</text>
<text transform="translate(259.1,658) rotate(-90)">291</text>
<text transform="translate(275.8,658) rotate(-90)">320</text>
<text transform="translate(292.5,658) rotate(-90)">349</text>
<text transform="translate(309.2,658) rotate(-90)">378</text>
<text transform="translate(325.9,658) rotate(-90)">407</text>
<text transform="translate(342.7,658) rotate(-90)">436</text>
<text transform="translate(359.4,658) rotate(-90)">465</text>
<text transform="translate(376.1,658) rotate(-90)">494</text>
<text transform="translate(392.8,658) rotate(-90)">523</text>
<text transform="translate(409.5,658) rotate(-90)">552</text>
<text transform="translate(426.2,658) rotate(-90)">581</text>
<text transform="translate(442.9,658) rotate(-90)">610</text>
<text transform="translate(459.6,658) rotate(-90)">639</text>
<text transform="translate(476.3,658) rotate(-90)">668</text>
<text transform="translate(493.0,658) rotate(-90)">697</text>
<text transform="translate(509.8,658) rotate(-90)">726</text>
<text transform="translate(526.5,658) rotate(-90)">755</text>
<text transform="translate(543.2,658) rotate(-90)">784</text>
<text transform="translate(559.9,658) rotate(-90)">813</text>
<text transform="translate(576.6,658) rotate(-90)">842</text>
<text transform="translate(593.3,658) rotate(-90)">871</text>
<text transform="translate(610.0,658) rotate(-90)">900</text>
<text transform="translate(626.7,658) rotate(-90)">929</text>
<text transform="translate(643.4,658) rotate(-90)">958</text>
<text transform="translate(660.1,658) rotate(-90)">987</text>
<text transform="translate(676.9,658) rotate(-90)">1016</text>
<text transform="translate(693.6,658) rotate(-90)">1045</text>
<text transform="translate(710.3,658) rotate(-90)">1074</text>
<text transform="translate(727.0,658) rotate(-90)">1103</text>
<text transform="translate(743.7,658) rotate(-90)">1132</text>
<text transform="translate(760.4,658) rotate(-90)">1161</text>
<text transform="translate(777.1,658) rotate(-90)">1190</text>
<text transform="translate(793.8,658) rotate(-90)">1219</text>
<text transform="translate(810.5,658) rotate(-90)">1248</text>
<text transform="translate(827.2,658) rotate(-90)">1277</text>
<text transform="translate(844.0,658) rotate(-90)">1306</text>

</g>
<g filter="url(#glow)" class="t">
<text x="116" y="186.3" font-size="42" letter-spacing="1.28" fill="url(#titleg)">US Index (Day) Trader</text>
</g>
<g filter="url(#glows)" class="t">
<g font-size="15.5" fill="url(#perfg)">
<text x="118.6" y="253" textLength="138" lengthAdjust="spacingAndGlyphs">Performance</text>
<text x="272" y="253" textLength="39" lengthAdjust="spacingAndGlyphs">von</text>
<text x="327" y="253" textLength="121" lengthAdjust="spacingAndGlyphs">23.02.2009</text>
<text x="454" y="253" textLength="8.5" lengthAdjust="spacingAndGlyphs">-</text>
<text x="470" y="253" textLength="120.5" lengthAdjust="spacingAndGlyphs">06.08.2012</text>
</g>
<g font-size="19" fill="url(#pctg)">
<text x="117" y="277.2" textLength="13.5" lengthAdjust="spacingAndGlyphs">+</text>
<text x="141" y="277.2" textLength="127" lengthAdjust="spacingAndGlyphs">1164,33%</text>
</g>
<g font-size="12.8" fill="url(#vrg)">
<text x="119.5" y="311.5" textLength="11" lengthAdjust="spacingAndGlyphs">1</text>
<text x="142" y="311.5" textLength="19.5" lengthAdjust="spacingAndGlyphs">%</text>
<text x="171" y="311.5" textLength="32.5" lengthAdjust="spacingAndGlyphs">VR</text>
<text x="209.5" y="311.5" textLength="9" lengthAdjust="spacingAndGlyphs">/</text>
<text x="225" y="311.5" textLength="36.5" lengthAdjust="spacingAndGlyphs">pro</text>
<text x="271.5" y="311.5" textLength="65" lengthAdjust="spacingAndGlyphs">Trade</text>
</g>
</g>
<g class="logo">
<path d="M473.0,499.5 L477.4,494.8 L482.4,490.7 L488.1,487.6 L494.1,485.3 L500.4,483.9 L506.9,483.0 L513.3,482.4 L519.8,482.4 L526.3,482.4 L532.8,482.4 L539.2,483.4 L545.6,484.4 L552.1,485.0 L558.6,485.6 L565.1,485.6 L571.6,485.6 L578.0,485.3 L584.5,485.0 L591.0,484.3 L597.4,483.3 L603.7,481.9 L610.0,480.1 L616.2,478.1 L622.5,477.5 L668.5,550.9 L662.2,552.3 L656.2,555.0 L650.1,557.5 L643.8,559.6 L637.5,561.4 L631.1,563.0 L624.6,564.1 L618.1,565.1 L611.6,565.9 L605.0,566.7 L598.4,566.9 L591.8,567.1 L585.3,566.9 L578.7,566.7 L572.1,567.5 L565.6,568.3 L559.1,569.1 L552.6,570.6 L546.3,572.4 L540.1,574.5 L534.3,577.7 L528.9,581.4 L524.2,585.9 L520.0,591.0Z" fill="#556" opacity="0.35" transform="translate(-6,6)" filter="url(#blur3)"/>
<path d="M473.0,499.5 L477.4,494.8 L482.4,490.7 L488.1,487.6 L494.1,485.3 L500.4,483.9 L506.9,483.0 L513.3,482.4 L519.8,482.4 L526.3,482.4 L532.8,482.4 L539.2,483.4 L545.6,484.4 L552.1,485.0 L558.6,485.6 L565.1,485.6 L571.6,485.6 L578.0,485.3 L584.5,485.0 L591.0,484.3 L597.4,483.3 L603.7,481.9 L610.0,480.1 L616.2,478.1 L622.5,477.5 L668.5,550.9 L662.2,552.3 L656.2,555.0 L650.1,557.5 L643.8,559.6 L637.5,561.4 L631.1,563.0 L624.6,564.1 L618.1,565.1 L611.6,565.9 L605.0,566.7 L598.4,566.9 L591.8,567.1 L585.3,566.9 L578.7,566.7 L572.1,567.5 L565.6,568.3 L559.1,569.1 L552.6,570.6 L546.3,572.4 L540.1,574.5 L534.3,577.7 L528.9,581.4 L524.2,585.9 L520.0,591.0Z" fill="#fff"/>
<path d="M473.0,499.5 L477.4,494.8 L482.4,490.7 L488.1,487.6 L494.1,485.3 L500.4,483.9 L506.9,483.0 L513.3,482.4 L519.8,482.4 L526.3,482.4 L532.8,482.4 L539.2,483.4 L545.6,484.4 L552.1,485.0 L558.6,485.6 L565.1,485.6 L571.6,485.6 L578.0,485.3 L584.5,485.0 L591.0,484.3 L597.4,483.3 L603.7,481.9 L610.0,480.1 L616.2,478.1 L622.5,477.5 L625.1,483.1 L618.9,483.8 L612.8,485.9 L606.7,487.7 L600.4,489.1 L594.1,490.2 L587.7,491.0 L581.3,491.4 L574.9,491.7 L568.4,491.8 L562.0,491.8 L555.5,491.3 L549.1,490.8 L542.7,489.8 L536.3,488.9 L529.8,488.9 L523.3,489.0 L516.8,489.1 L510.4,489.7 L504.0,490.7 L497.6,492.2 L491.7,494.5 L486.0,497.7 L481.0,501.8 L476.6,506.5Z" fill="#d8141c"/>
<path d="M480.2,513.6 L484.6,508.8 L489.5,504.6 L495.2,501.4 L501.2,499.0 L507.5,497.5 L513.9,496.4 L520.3,495.7 L526.8,495.6 L533.3,495.5 L539.7,495.4 L546.1,496.2 L552.5,497.2 L558.9,497.6 L565.3,498.0 L571.8,498.0 L578.2,497.8 L584.5,497.4 L590.9,497.0 L597.2,496.1 L603.5,495.0 L609.6,493.5 L615.7,491.6 L621.6,489.5 L627.7,488.8 L630.5,494.4 L624.5,495.2 L618.6,497.4 L612.6,499.3 L606.6,500.9 L600.4,502.1 L594.2,503.0 L587.8,503.5 L581.5,504.0 L575.1,504.1 L568.8,504.3 L562.4,503.9 L556.0,503.5 L549.6,502.7 L543.2,501.9 L536.8,502.0 L530.3,502.2 L523.8,502.4 L517.4,503.2 L511.0,504.3 L504.7,505.9 L498.8,508.4 L493.1,511.6 L488.2,515.8 L483.8,520.6Z" fill="#d8141c"/>
<path d="M487.5,527.7 L491.8,522.8 L496.7,518.6 L502.3,515.3 L508.2,512.8 L514.5,511.1 L520.9,509.9 L527.3,509.1 L533.8,508.8 L540.2,508.6 L546.7,508.4 L553.1,509.1 L559.4,509.9 L565.8,510.2 L572.2,510.5 L578.6,510.3 L584.9,510.1 L591.2,509.5 L597.5,509.0 L603.7,508.0 L609.8,506.8 L615.8,505.1 L621.7,503.1 L627.4,501.0 L633.4,500.1 L636.5,505.7 L630.6,506.7 L624.9,508.9 L619.0,510.9 L613.1,512.6 L607.0,514.0 L600.9,515.0 L594.6,515.6 L588.4,516.2 L582.0,516.5 L575.7,516.8 L569.3,516.5 L562.9,516.2 L556.6,515.5 L550.2,514.8 L543.7,515.1 L537.3,515.5 L530.8,515.8 L524.4,516.7 L518.0,517.9 L511.8,519.6 L505.9,522.2 L500.3,525.6 L495.4,529.8 L491.1,534.7Z" fill="#d8141c"/>
<path d="M494.7,541.7 L499.0,536.8 L503.8,532.5 L509.4,529.2 L515.3,526.5 L521.6,524.7 L527.9,523.4 L534.3,522.4 L540.8,522.1 L547.3,521.7 L553.7,521.3 L560.1,521.9 L566.5,522.6 L572.9,522.8 L579.2,523.0 L585.6,522.7 L591.9,522.3 L598.1,521.7 L604.4,521.0 L610.5,519.9 L616.5,518.5 L622.5,516.8 L628.2,514.7 L633.9,512.4 L639.8,511.4 L643.3,517.0 L637.5,518.1 L631.8,520.4 L626.0,522.6 L620.1,524.4 L614.1,525.8 L607.9,527.0 L601.7,527.7 L595.4,528.4 L589.1,528.9 L582.8,529.3 L576.4,529.1 L570.0,529.0 L563.6,528.3 L557.2,527.8 L550.8,528.2 L544.3,528.7 L537.9,529.1 L531.5,530.2 L525.1,531.5 L518.8,533.4 L513.0,536.1 L507.4,539.5 L502.6,543.9 L498.3,548.8Z" fill="#d8141c"/>
<path d="M501.9,555.8 L506.2,550.9 L511.0,546.5 L516.6,543.0 L522.4,540.2 L528.6,538.3 L535.0,536.9 L541.4,535.8 L547.9,535.3 L554.3,534.8 L560.8,534.3 L567.2,534.8 L573.6,535.3 L580.0,535.4 L586.4,535.5 L592.8,535.0 L599.1,534.5 L605.4,533.8 L611.6,533.0 L617.8,531.8 L623.8,530.3 L629.7,528.4 L635.5,526.2 L641.2,523.8 L647.1,522.7 L651.1,528.3 L645.1,529.5 L639.4,531.9 L633.6,534.2 L627.6,536.1 L621.6,537.7 L615.4,539.0 L609.1,539.8 L602.8,540.7 L596.5,541.2 L590.1,541.7 L583.7,541.7 L577.2,541.7 L570.8,541.2 L564.3,540.8 L557.9,541.3 L551.4,541.9 L544.9,542.4 L538.5,543.6 L532.2,545.1 L525.9,547.1 L520.1,550.0 L514.6,553.5 L509.8,557.9 L505.5,562.8Z" fill="#d8141c"/>
<path d="M509.2,569.9 L513.4,564.9 L518.1,560.4 L523.7,556.9 L529.5,554.0 L535.7,551.9 L542.0,550.4 L548.4,549.1 L554.9,548.5 L561.4,547.9 L567.9,547.3 L574.4,547.6 L580.9,548.1 L587.3,548.0 L593.8,548.0 L600.2,547.4 L606.6,546.8 L612.9,545.9 L619.2,545.0 L625.5,543.6 L631.6,542.0 L637.6,540.0 L643.5,537.7 L649.2,535.2 L655.2,534.0 L659.6,539.6 L653.5,540.9 L647.6,543.4 L641.7,545.8 L635.6,547.9 L629.4,549.6 L623.2,551.0 L616.8,551.9 L610.4,552.9 L604.0,553.6 L597.5,554.2 L591.0,554.3 L584.5,554.4 L578.0,554.0 L571.5,553.8 L565.0,554.4 L558.5,555.1 L552.0,555.8 L545.6,557.1 L539.2,558.7 L533.0,560.8 L527.2,563.8 L521.7,567.4 L517.0,571.9 L512.8,576.9Z" fill="#d8141c"/>
<path d="M516.4,584.0 L520.6,578.9 L525.3,574.4 L530.8,570.8 L536.5,567.7 L542.8,565.6 L549.1,563.9 L555.5,562.5 L562.0,561.7 L568.6,561.0 L575.1,560.3 L581.6,560.4 L588.2,560.8 L594.7,560.6 L601.3,560.5 L607.8,559.8 L614.2,559.0 L620.7,558.0 L627.1,557.0 L633.5,555.5 L639.7,553.7 L645.9,551.7 L651.9,549.2 L657.8,546.6 L664.0,545.3 L668.5,550.9 L662.2,552.3 L656.2,555.0 L650.1,557.5 L643.8,559.6 L637.5,561.4 L631.1,563.0 L624.6,564.1 L618.1,565.1 L611.6,565.9 L605.0,566.7 L598.4,566.9 L591.8,567.1 L585.3,566.9 L578.7,566.7 L572.1,567.5 L565.6,568.3 L559.1,569.1 L552.6,570.6 L546.3,572.4 L540.1,574.5 L534.3,577.7 L528.9,581.4 L524.2,585.9 L520.0,591.0Z" fill="#d8141c"/>
<path d="M473.0,499.5 L474.9,497.5 L476.7,495.5 L478.6,493.5 L480.6,491.7 L483.0,490.4 L485.4,489.1 L487.8,487.8 L490.1,486.5 L492.7,485.6 L495.4,485.0 L498.0,484.4 L500.7,483.8 L503.4,483.3 L506.1,483.1 L508.8,482.8 L511.5,482.5 L514.2,482.4 L517.0,482.4 L519.7,482.4 L522.4,482.4 L525.1,482.4 L527.9,482.4 L530.6,482.4 L533.3,482.5 L557.7,527.8 L555.0,528.0 L552.3,528.1 L549.6,528.3 L546.9,528.5 L544.2,528.7 L541.5,528.9 L538.8,529.0 L536.1,529.3 L533.4,529.8 L530.7,530.3 L528.0,530.8 L525.3,531.4 L522.7,532.2 L520.1,533.0 L517.5,533.8 L515.0,534.9 L512.7,536.3 L510.3,537.7 L508.0,539.2 L505.6,540.6 L503.7,542.6 L501.9,544.6 L500.1,546.7 L498.3,548.8Z" fill="#2549a0"/>
<g fill="#fff"><circle cx="479.2" cy="500.4" r="1.5"/><circle cx="487.9" cy="493.9" r="1.5"/><circle cx="497.8" cy="489.8" r="1.5"/><circle cx="508.5" cy="487.8" r="1.5"/><circle cx="519.4" cy="487.0" r="1.5"/><circle cx="530.3" cy="487.0" r="1.5"/><circle cx="485.6" cy="501.5" r="1.5"/><circle cx="495.1" cy="496.1" r="1.5"/><circle cx="505.6" cy="493.3" r="1.5"/><circle cx="516.4" cy="491.8" r="1.5"/><circle cx="527.3" cy="491.6" r="1.5"/><circle cx="484.3" cy="510.3" r="1.5"/><circle cx="492.8" cy="503.7" r="1.5"/><circle cx="502.8" cy="499.4" r="1.5"/><circle cx="513.5" cy="497.2" r="1.5"/><circle cx="524.3" cy="496.3" r="1.5"/><circle cx="535.2" cy="496.1" r="1.5"/><circle cx="490.6" cy="511.3" r="1.5"/><circle cx="500.1" cy="505.8" r="1.5"/><circle cx="510.5" cy="502.9" r="1.5"/><circle cx="521.3" cy="501.2" r="1.5"/><circle cx="532.2" cy="500.8" r="1.5"/><circle cx="489.3" cy="520.1" r="1.5"/><circle cx="497.8" cy="513.4" r="1.5"/><circle cx="507.7" cy="509.0" r="1.5"/><circle cx="518.4" cy="506.7" r="1.5"/><circle cx="529.2" cy="505.6" r="1.5"/><circle cx="540.0" cy="505.3" r="1.5"/><circle cx="495.6" cy="521.0" r="1.5"/><circle cx="505.1" cy="515.5" r="1.5"/><circle cx="515.5" cy="512.4" r="1.5"/><circle cx="526.2" cy="510.6" r="1.5"/><circle cx="537.1" cy="510.1" r="1.5"/><circle cx="494.4" cy="529.9" r="1.5"/><circle cx="502.8" cy="523.1" r="1.5"/><circle cx="512.7" cy="518.6" r="1.5"/><circle cx="523.3" cy="516.1" r="1.5"/><circle cx="534.1" cy="514.9" r="1.5"/><circle cx="544.9" cy="514.4" r="1.5"/><circle cx="500.6" cy="530.8" r="1.5"/><circle cx="510.0" cy="525.2" r="1.5"/><circle cx="520.4" cy="521.9" r="1.5"/><circle cx="531.1" cy="520.0" r="1.5"/><circle cx="542.0" cy="519.3" r="1.5"/><circle cx="499.4" cy="539.7" r="1.5"/><circle cx="507.8" cy="532.9" r="1.5"/><circle cx="517.6" cy="528.2" r="1.5"/><circle cx="528.2" cy="525.6" r="1.5"/><circle cx="539.0" cy="524.2" r="1.5"/><circle cx="549.9" cy="523.6" r="1.5"/></g>
<path d="M473.0,499.5 L477.4,494.8 L482.4,490.7 L488.1,487.6 L494.1,485.3 L500.4,483.9 L506.9,483.0 L513.3,482.4 L519.8,482.4 L526.3,482.4 L532.8,482.4 L539.2,483.4 L545.6,484.4 L552.1,485.0 L558.6,485.6 L565.1,485.6 L571.6,485.6 L578.0,485.3 L584.5,485.0 L591.0,484.3 L597.4,483.3 L603.7,481.9 L610.0,480.1 L616.2,478.1 L622.5,477.5 L668.5,550.9 L662.2,552.3 L656.2,555.0 L650.1,557.5 L643.8,559.6 L637.5,561.4 L631.1,563.0 L624.6,564.1 L618.1,565.1 L611.6,565.9 L605.0,566.7 L598.4,566.9 L591.8,567.1 L585.3,566.9 L578.7,566.7 L572.1,567.5 L565.6,568.3 L559.1,569.1 L552.6,570.6 L546.3,572.4 L540.1,574.5 L534.3,577.7 L528.9,581.4 L524.2,585.9 L520.0,591.0Z" fill="url(#flagshade)"/>

<g class="lg" font-size="37" stroke-linejoin="round" stroke-linecap="round">
<g fill="#334" stroke="#334" stroke-width="6" opacity="0.3" transform="translate(1.5,2.5)" filter="url(#blur2)">
<text x="483.5" y="547" textLength="57" lengthAdjust="spacingAndGlyphs">us</text>
<text x="557.5" y="547" textLength="100.5" lengthAdjust="spacingAndGlyphs">index</text>
<text x="541.5" y="572" textLength="220" lengthAdjust="spacingAndGlyphs">daytrader</text>
</g>
<g fill="#6e5e12" stroke="#6e5e12" stroke-width="6">
<text x="483.5" y="547" textLength="57" lengthAdjust="spacingAndGlyphs">us</text>
<text x="557.5" y="547" textLength="100.5" lengthAdjust="spacingAndGlyphs">index</text>
</g>
<g fill="url(#yel)" stroke="url(#yel)" stroke-width="3">
<text x="483.5" y="547" textLength="57" lengthAdjust="spacingAndGlyphs">us</text>
<text x="557.5" y="547" textLength="100.5" lengthAdjust="spacingAndGlyphs">index</text>
</g>
<g fill="#2c6c9e" stroke="#2c6c9e" stroke-width="6">
<text x="541.5" y="572" textLength="220" lengthAdjust="spacingAndGlyphs">daytrader</text>
</g>
<g fill="url(#blu)" stroke="url(#blu)" stroke-width="3">
<text x="541.5" y="572" textLength="220" lengthAdjust="spacingAndGlyphs">daytrader</text>
</g>
</g>
</g>
</svg>
</body></html>
